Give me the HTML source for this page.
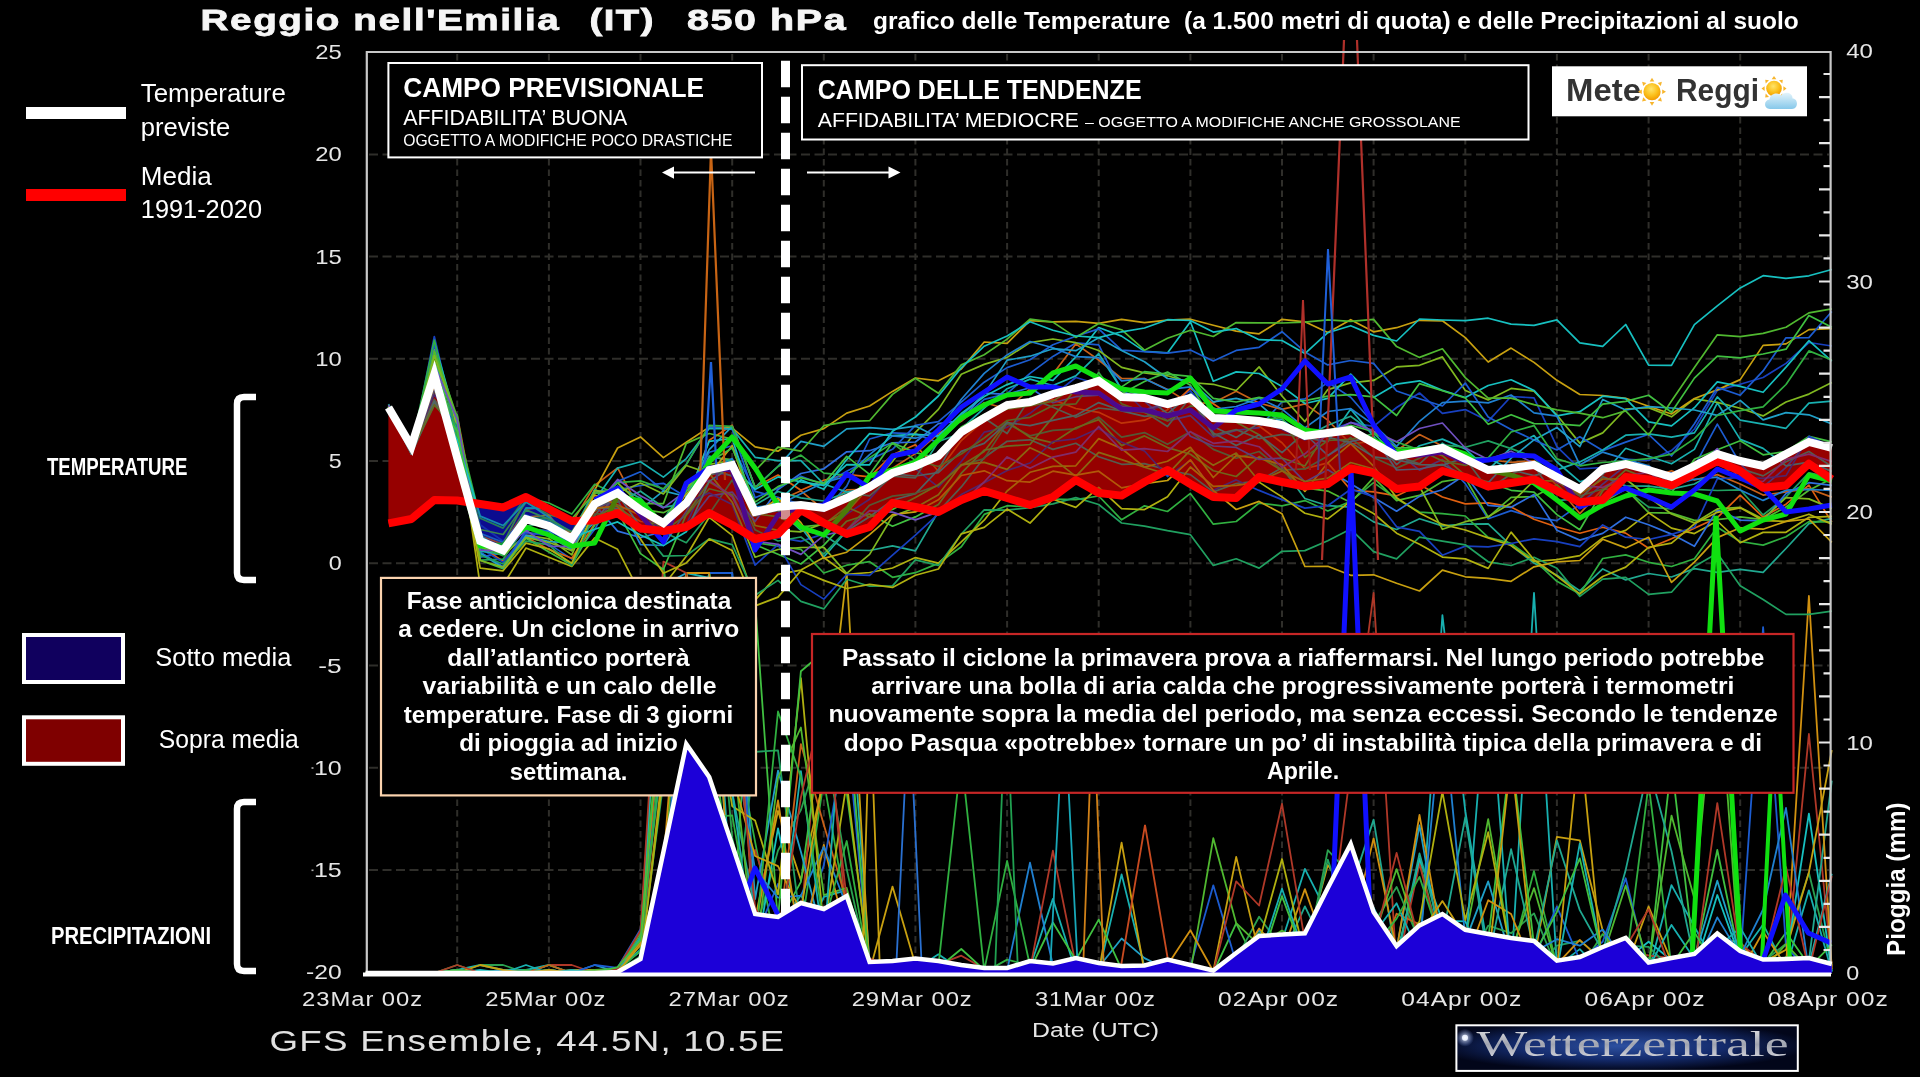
<!DOCTYPE html>
<html><head><meta charset="utf-8"><title>Reggio nell'Emilia 850 hPa</title>
<style>
html,body{margin:0;padding:0;background:#000;width:1920px;height:1080px;overflow:hidden}
svg{display:block;font-family:"Liberation Sans",sans-serif;will-change:transform}
text{white-space:pre}
</style></head><body>
<svg width="1920" height="1080" viewBox="0 0 1920 1080">
<defs>
<radialGradient id="sung" cx="0.45" cy="0.35" r="0.65"><stop offset="0" stop-color="#ffe46a"/><stop offset="0.6" stop-color="#fbbf1a"/><stop offset="1" stop-color="#f29a00"/></radialGradient>
<linearGradient id="cloudg" x1="0" y1="0" x2="0" y2="1"><stop offset="0" stop-color="#e4f4fb"/><stop offset="1" stop-color="#86c8ea"/></linearGradient>
<radialGradient id="wzg" cx="0.48" cy="0.45" r="0.55"><stop offset="0" stop-color="#2d50a0"/><stop offset="0.55" stop-color="#142b6c"/><stop offset="1" stop-color="#02061a"/></radialGradient>
<radialGradient id="flare"><stop offset="0" stop-color="#ffffff" stop-opacity="0.9"/><stop offset="1" stop-color="#88aaff" stop-opacity="0"/></radialGradient>
<linearGradient id="silver" x1="0" y1="0" x2="0" y2="1"><stop offset="0" stop-color="#f0f0f0"/><stop offset="0.5" stop-color="#a0a4b0"/><stop offset="1" stop-color="#e8e8ee"/></linearGradient>
</defs>
<rect width="1920" height="1080" fill="#000"/>
<path d="M457.2,54V972 M548.9,54V972 M640.5,54V972 M732.2,54V972 M823.8,54V972 M915.4,54V972 M1007.1,54V972 M1098.7,54V972 M1190.4,54V972 M1282.0,54V972 M1373.6,54V972 M1465.3,54V972 M1556.9,54V972 M1648.6,54V972 M1740.2,54V972" stroke="#2f2e2a" stroke-width="2" stroke-dasharray="6.5 4" fill="none"/>
<path d="M369,154.4H1829 M369,256.6H1829 M369,358.8H1829 M369,461.1H1829 M369,563.3H1829 M369,665.5H1829 M369,767.8H1829 M369,870.0H1829" stroke="#2f2e2a" stroke-width="2" stroke-dasharray="9 4.5" fill="none"/>
<g fill="#960000"><polygon points="388.5,407.5 411.4,446.2 434.3,374.4 457.2,458.0 469.5,502.4 469.5,502.4 457.2,500.5 434.3,500.0 411.4,519.0 388.5,523.4"/><polygon points="583.7,520.7 594.7,504.0 617.6,493.0 640.5,510.0 663.4,523.0 686.3,503.0 709.2,470.0 732.2,465.0 755.1,512.0 778.0,506.7 800.9,505.0 823.8,508.0 846.7,498.0 869.6,487.0 892.5,473.0 915.4,466.0 938.4,456.0 961.3,432.0 984.2,418.0 1007.1,405.0 1030.0,402.0 1052.9,394.0 1075.8,388.0 1098.7,381.0 1121.6,397.0 1144.5,398.0 1167.5,404.0 1190.4,398.0 1213.3,418.0 1236.2,419.0 1259.1,421.0 1282.0,425.0 1304.9,436.0 1327.8,433.0 1350.7,430.0 1373.6,443.0 1396.6,456.0 1419.5,452.0 1442.4,448.0 1465.3,459.0 1488.2,470.0 1511.1,468.0 1534.0,465.0 1556.9,477.0 1579.8,489.0 1602.7,469.0 1625.7,464.0 1648.6,470.0 1671.5,477.0 1694.4,466.0 1717.3,454.0 1740.2,461.0 1763.1,466.0 1786.0,454.0 1808.9,442.0 1831.8,448.0 1831.8,479.4 1808.9,463.7 1786.0,485.4 1763.1,487.8 1740.2,471.0 1717.3,461.3 1694.4,473.0 1671.5,485.4 1648.6,479.4 1625.7,477.0 1602.7,500.0 1579.8,502.3 1556.9,491.0 1534.0,479.4 1511.1,483.0 1488.2,486.5 1465.3,477.0 1442.4,471.0 1419.5,486.5 1396.6,489.0 1373.6,473.0 1350.7,468.4 1327.8,484.0 1304.9,486.5 1282.0,482.0 1259.1,477.0 1236.2,498.0 1213.3,497.0 1190.4,484.0 1167.5,470.0 1144.5,482.0 1121.6,495.6 1098.7,493.0 1075.8,480.0 1052.9,497.0 1030.0,505.0 1007.1,498.0 984.2,491.0 961.3,500.0 938.4,512.0 915.4,507.0 892.5,503.0 869.6,527.0 846.7,534.0 823.8,523.0 800.9,510.0 778.0,534.0 755.1,539.0 732.2,525.0 709.2,513.0 686.3,527.0 663.4,531.0 640.5,528.5 617.6,513.3 594.7,520.5 583.7,520.7"/></g>
<g fill="#0c0c90"><polygon points="469.5,502.4 480.2,541.0 503.1,550.4 526.0,519.2 548.9,526.0 571.8,538.8 583.7,520.7 583.7,520.7 571.8,521.0 548.9,509.0 526.0,497.0 503.1,507.5 480.2,504.0 469.5,502.4"/></g>
<g stroke-linejoin="round"><path d="M365.6,973.0 L388.5,973.0 L411.4,973.0 L434.3,973.0 L457.2,970.0 L480.2,965.0 L503.1,970.0 L526.0,970.0 L548.9,965.0 L571.8,973.0 L594.7,973.0 L617.6,968.2 L640.5,951.6 L663.4,692.0 L686.3,573.0 L709.2,577.9 L732.2,904.5 L755.1,943.8 L778.0,920.8 L800.9,947.6 L823.8,896.8 L846.7,890.2 L869.6,969.8 L892.5,970.9 L915.4,969.2 L938.4,954.3 L961.3,970.1 L984.2,968.8 L1007.1,971.9 L1030.0,967.5 L1052.9,898.9 L1075.8,971.5 L1098.7,972.4 L1121.6,874.4 L1144.5,966.7 L1167.5,968.4 L1190.4,970.0 L1213.3,972.6 L1236.2,966.9 L1259.1,959.9 L1282.0,941.0 L1304.9,868.9 L1327.8,914.1 L1350.7,893.8 L1373.6,907.7 L1396.6,954.3 L1419.5,956.6 L1442.4,615.2 L1465.3,811.2 L1488.2,952.2 L1511.1,972.4 L1534.0,593.0 L1556.9,966.6 L1579.8,949.1 L1602.7,972.8 L1625.7,946.8 L1648.6,972.3 L1671.5,885.1 L1694.4,926.5 L1717.3,968.5 L1740.2,956.5 L1763.1,924.4 L1786.0,969.1 L1808.9,890.3 L1831.8,971.7" stroke="#18b0b0" stroke-width="1.8" fill="none"/><path d="M365.6,973.0 L388.5,973.0 L411.4,973.0 L434.3,973.0 L457.2,965.0 L480.2,973.0 L503.1,973.0 L526.0,970.0 L548.9,973.0 L571.8,973.0 L594.7,973.0 L617.6,972.4 L640.5,971.3 L663.4,566.4 L686.3,725.0 L709.2,573.0 L732.2,721.3 L755.1,841.9 L778.0,957.4 L800.9,930.5 L823.8,780.8 L846.7,912.1 L869.6,971.3 L892.5,966.8 L915.4,968.3 L938.4,962.4 L961.3,968.0 L984.2,972.4 L1007.1,959.6 L1030.0,965.4 L1052.9,972.8 L1075.8,966.5 L1098.7,970.1 L1121.6,972.5 L1144.5,968.0 L1167.5,964.0 L1190.4,967.3 L1213.3,972.2 L1236.2,956.8 L1259.1,959.1 L1282.0,943.1 L1304.9,950.7 L1327.8,895.5 L1350.7,963.7 L1373.6,918.5 L1396.6,955.3 L1419.5,861.4 L1442.4,949.6 L1465.3,969.7 L1488.2,972.0 L1511.1,957.8 L1534.0,871.1 L1556.9,966.1 L1579.8,969.3 L1602.7,934.1 L1625.7,966.6 L1648.6,783.9 L1671.5,967.0 L1694.4,967.4 L1717.3,965.9 L1740.2,957.0 L1763.1,962.3 L1786.0,965.7 L1808.9,971.2 L1831.8,966.2" stroke="#30b040" stroke-width="1.8" fill="none"/><path d="M365.6,973.0 L388.5,973.0 L411.4,973.0 L434.3,973.0 L457.2,973.0 L480.2,973.0 L503.1,973.0 L526.0,973.0 L548.9,973.0 L571.8,970.0 L594.7,970.0 L617.6,971.3 L640.5,963.4 L663.4,764.0 L686.3,844.1 L709.2,863.3 L732.2,643.0 L755.1,918.9 L778.0,811.0 L800.9,880.1 L823.8,779.4 L846.7,714.5 L869.6,971.6 L892.5,886.6 L915.4,964.8 L938.4,964.3 L961.3,968.1 L984.2,970.9 L1007.1,973.0 L1030.0,965.3 L1052.9,970.7 L1075.8,963.6 L1098.7,967.5 L1121.6,970.5 L1144.5,966.9 L1167.5,961.7 L1190.4,972.1 L1213.3,971.6 L1236.2,966.2 L1259.1,943.7 L1282.0,940.3 L1304.9,949.7 L1327.8,865.0 L1350.7,898.5 L1373.6,961.3 L1396.6,949.2 L1419.5,950.0 L1442.4,956.0 L1465.3,939.7 L1488.2,954.5 L1511.1,955.7 L1534.0,959.0 L1556.9,836.8 L1579.8,840.3 L1602.7,930.4 L1625.7,968.6 L1648.6,906.5 L1671.5,961.7 L1694.4,956.8 L1717.3,939.2 L1740.2,942.2 L1763.1,969.5 L1786.0,965.0 L1808.9,961.6 L1831.8,970.5" stroke="#c8a010" stroke-width="1.8" fill="none"/><path d="M365.6,973.0 L388.5,973.0 L411.4,973.0 L434.3,973.0 L457.2,973.0 L480.2,973.0 L503.1,973.0 L526.0,973.0 L548.9,965.0 L571.8,965.0 L594.7,973.0 L617.6,969.6 L640.5,964.0 L663.4,720.1 L686.3,670.0 L709.2,780.7 L732.2,926.9 L755.1,849.9 L778.0,922.0 L800.9,918.0 L823.8,677.8 L846.7,922.7 L869.6,968.7 L892.5,963.3 L915.4,968.9 L938.4,966.3 L961.3,972.1 L984.2,972.9 L1007.1,972.0 L1030.0,969.5 L1052.9,967.7 L1075.8,963.1 L1098.7,968.4 L1121.6,971.8 L1144.5,970.1 L1167.5,968.0 L1190.4,971.8 L1213.3,971.6 L1236.2,963.5 L1259.1,952.6 L1282.0,964.9 L1304.9,944.0 L1327.8,948.8 L1350.7,768.9 L1373.6,593.0 L1396.6,969.7 L1419.5,863.7 L1442.4,953.3 L1465.3,956.6 L1488.2,968.6 L1511.1,951.4 L1534.0,944.2 L1556.9,962.8 L1579.8,971.3 L1602.7,955.3 L1625.7,951.4 L1648.6,955.5 L1671.5,958.1 L1694.4,964.2 L1717.3,967.8 L1740.2,943.9 L1763.1,961.0 L1786.0,971.8 L1808.9,734.0 L1831.8,966.8" stroke="#b03828" stroke-width="1.8" fill="none"/><path d="M365.6,973.0 L388.5,973.0 L411.4,973.0 L434.3,973.0 L457.2,973.0 L480.2,973.0 L503.1,970.0 L526.0,973.0 L548.9,965.0 L571.8,973.0 L594.7,973.0 L617.6,971.7 L640.5,956.2 L663.4,684.8 L686.3,612.9 L709.2,752.3 L732.2,929.7 L755.1,601.8 L778.0,923.9 L800.9,881.9 L823.8,715.2 L846.7,792.3 L869.6,965.5 L892.5,971.7 L915.4,970.9 L938.4,971.6 L961.3,969.1 L984.2,971.1 L1007.1,972.1 L1030.0,964.4 L1052.9,972.1 L1075.8,959.6 L1098.7,972.6 L1121.6,966.9 L1144.5,971.5 L1167.5,970.8 L1190.4,969.3 L1213.3,972.5 L1236.2,923.3 L1259.1,969.2 L1282.0,940.7 L1304.9,955.0 L1327.8,923.4 L1350.7,938.6 L1373.6,929.7 L1396.6,962.9 L1419.5,936.7 L1442.4,916.9 L1465.3,951.6 L1488.2,939.5 L1511.1,751.7 L1534.0,945.1 L1556.9,967.0 L1579.8,966.8 L1602.7,966.3 L1625.7,963.2 L1648.6,968.4 L1671.5,762.1 L1694.4,960.2 L1717.3,850.0 L1740.2,960.5 L1763.1,964.7 L1786.0,932.6 L1808.9,965.1 L1831.8,970.4" stroke="#40c040" stroke-width="1.8" fill="none"/><path d="M365.6,973.0 L388.5,973.0 L411.4,973.0 L434.3,973.0 L457.2,973.0 L480.2,973.0 L503.1,970.0 L526.0,973.0 L548.9,973.0 L571.8,973.0 L594.7,965.0 L617.6,972.4 L640.5,936.5 L663.4,585.6 L686.3,573.0 L709.2,573.0 L732.2,573.0 L755.1,899.0 L778.0,770.6 L800.9,851.7 L823.8,940.5 L846.7,938.9 L869.6,971.6 L892.5,971.6 L915.4,966.4 L938.4,967.5 L961.3,971.0 L984.2,969.7 L1007.1,972.1 L1030.0,970.4 L1052.9,968.7 L1075.8,970.4 L1098.7,967.3 L1121.6,938.5 L1144.5,958.1 L1167.5,969.6 L1190.4,966.4 L1213.3,972.5 L1236.2,964.3 L1259.1,930.0 L1282.0,968.4 L1304.9,944.3 L1327.8,910.1 L1350.7,883.7 L1373.6,932.0 L1396.6,948.8 L1419.5,825.3 L1442.4,957.6 L1465.3,940.9 L1488.2,881.4 L1511.1,958.4 L1534.0,957.3 L1556.9,966.7 L1579.8,966.3 L1602.7,972.8 L1625.7,944.3 L1648.6,966.4 L1671.5,962.7 L1694.4,957.9 L1717.3,880.7 L1740.2,955.1 L1763.1,967.6 L1786.0,961.6 L1808.9,969.2 L1831.8,965.0" stroke="#20a0c8" stroke-width="1.8" fill="none"/><path d="M365.6,973.0 L388.5,973.0 L411.4,973.0 L434.3,973.0 L457.2,970.0 L480.2,973.0 L503.1,973.0 L526.0,973.0 L548.9,965.0 L571.8,973.0 L594.7,973.0 L617.6,970.8 L640.5,956.5 L663.4,782.2 L686.3,694.9 L709.2,673.9 L732.2,937.7 L755.1,751.8 L778.0,750.4 L800.9,925.5 L823.8,960.9 L846.7,936.6 L869.6,967.6 L892.5,972.1 L915.4,963.4 L938.4,972.1 L961.3,972.0 L984.2,970.1 L1007.1,972.0 L1030.0,967.4 L1052.9,969.6 L1075.8,959.9 L1098.7,968.6 L1121.6,968.5 L1144.5,966.8 L1167.5,963.0 L1190.4,966.9 L1213.3,971.1 L1236.2,955.8 L1259.1,955.6 L1282.0,945.2 L1304.9,958.0 L1327.8,859.6 L1350.7,929.4 L1373.6,943.9 L1396.6,965.9 L1419.5,970.5 L1442.4,951.9 L1465.3,942.8 L1488.2,956.2 L1511.1,954.6 L1534.0,972.0 L1556.9,945.7 L1579.8,940.9 L1602.7,959.1 L1625.7,945.7 L1648.6,946.8 L1671.5,968.8 L1694.4,959.0 L1717.3,963.7 L1740.2,954.9 L1763.1,966.3 L1786.0,966.9 L1808.9,957.2 L1831.8,966.5" stroke="#20a060" stroke-width="1.8" fill="none"/><path d="M365.6,973.0 L388.5,973.0 L411.4,973.0 L434.3,973.0 L457.2,973.0 L480.2,965.0 L503.1,965.0 L526.0,973.0 L548.9,973.0 L571.8,973.0 L594.7,973.0 L617.6,967.8 L640.5,932.3 L663.4,751.0 L686.3,740.3 L709.2,573.0 L732.2,837.9 L755.1,933.0 L778.0,850.5 L800.9,810.0 L823.8,736.8 L846.7,869.3 L869.6,971.7 L892.5,966.4 L915.4,961.4 L938.4,972.1 L961.3,969.1 L984.2,972.9 L1007.1,972.1 L1030.0,964.6 L1052.9,972.7 L1075.8,966.3 L1098.7,964.3 L1121.6,970.4 L1144.5,966.3 L1167.5,972.2 L1190.4,972.0 L1213.3,971.5 L1236.2,958.9 L1259.1,916.8 L1282.0,948.3 L1304.9,962.5 L1327.8,850.2 L1350.7,875.0 L1373.6,923.5 L1396.6,886.9 L1419.5,940.9 L1442.4,932.9 L1465.3,969.6 L1488.2,925.6 L1511.1,933.2 L1534.0,913.4 L1556.9,968.0 L1579.8,971.5 L1602.7,969.9 L1625.7,967.4 L1648.6,958.2 L1671.5,963.5 L1694.4,958.5 L1717.3,957.5 L1740.2,966.2 L1763.1,961.7 L1786.0,943.8 L1808.9,872.8 L1831.8,965.5" stroke="#2aa050" stroke-width="1.8" fill="none"/><path d="M365.6,973.0 L388.5,973.0 L411.4,973.0 L434.3,973.0 L457.2,973.0 L480.2,973.0 L503.1,973.0 L526.0,973.0 L548.9,965.0 L571.8,973.0 L594.7,973.0 L617.6,971.0 L640.5,957.6 L663.4,678.7 L686.3,581.9 L709.2,674.1 L732.2,594.3 L755.1,948.0 L778.0,943.0 L800.9,744.1 L823.8,824.7 L846.7,901.2 L869.6,963.6 L892.5,970.9 L915.4,969.8 L938.4,965.5 L961.3,966.3 L984.2,970.9 L1007.1,968.6 L1030.0,963.2 L1052.9,968.2 L1075.8,969.4 L1098.7,964.1 L1121.6,969.2 L1144.5,967.4 L1167.5,962.1 L1190.4,968.9 L1213.3,972.6 L1236.2,971.6 L1259.1,946.1 L1282.0,940.4 L1304.9,962.0 L1327.8,916.6 L1350.7,893.8 L1373.6,972.1 L1396.6,913.7 L1419.5,924.4 L1442.4,963.8 L1465.3,962.7 L1488.2,961.3 L1511.1,971.8 L1534.0,968.8 L1556.9,966.3 L1579.8,967.1 L1602.7,956.9 L1625.7,949.3 L1648.6,963.6 L1671.5,961.5 L1694.4,965.6 L1717.3,940.7 L1740.2,962.6 L1763.1,962.0 L1786.0,972.3 L1808.9,960.8 L1831.8,968.2" stroke="#c86018" stroke-width="1.8" fill="none"/><path d="M365.6,973.0 L388.5,973.0 L411.4,973.0 L434.3,973.0 L457.2,973.0 L480.2,973.0 L503.1,973.0 L526.0,973.0 L548.9,970.0 L571.8,973.0 L594.7,965.0 L617.6,967.8 L640.5,929.2 L663.4,741.7 L686.3,573.0 L709.2,573.0 L732.2,573.0 L755.1,938.2 L778.0,883.9 L800.9,929.9 L823.8,865.3 L846.7,727.1 L869.6,971.7 L892.5,966.8 L915.4,969.1 L938.4,972.7 L961.3,969.8 L984.2,970.6 L1007.1,969.9 L1030.0,969.7 L1052.9,970.3 L1075.8,971.1 L1098.7,966.0 L1121.6,971.7 L1144.5,968.3 L1167.5,969.2 L1190.4,966.5 L1213.3,885.3 L1236.2,962.9 L1259.1,965.1 L1282.0,939.2 L1304.9,962.1 L1327.8,899.5 L1350.7,920.1 L1373.6,954.6 L1396.6,954.1 L1419.5,965.7 L1442.4,966.6 L1465.3,962.5 L1488.2,955.4 L1511.1,937.1 L1534.0,957.9 L1556.9,906.6 L1579.8,960.1 L1602.7,941.8 L1625.7,878.3 L1648.6,972.3 L1671.5,972.0 L1694.4,972.9 L1717.3,953.9 L1740.2,961.7 L1763.1,627.1 L1786.0,946.2 L1808.9,972.6 L1831.8,971.8" stroke="#1c5cd0" stroke-width="1.8" fill="none"/><path d="M365.6,973.0 L388.5,973.0 L411.4,973.0 L434.3,973.0 L457.2,973.0 L480.2,970.0 L503.1,973.0 L526.0,973.0 L548.9,970.0 L571.8,973.0 L594.7,973.0 L617.6,972.6 L640.5,938.0 L663.4,585.5 L686.3,711.5 L709.2,573.0 L732.2,939.1 L755.1,959.9 L778.0,828.3 L800.9,937.1 L823.8,934.7 L846.7,907.3 L869.6,967.6 L892.5,966.5 L915.4,970.4 L938.4,972.4 L961.3,966.7 L984.2,970.3 L1007.1,969.4 L1030.0,965.2 L1052.9,972.7 L1075.8,970.6 L1098.7,967.8 L1121.6,969.1 L1144.5,970.1 L1167.5,963.0 L1190.4,967.4 L1213.3,971.9 L1236.2,963.8 L1259.1,939.6 L1282.0,950.2 L1304.9,956.8 L1327.8,913.8 L1350.7,891.3 L1373.6,965.9 L1396.6,958.4 L1419.5,858.6 L1442.4,920.7 L1465.3,921.4 L1488.2,969.8 L1511.1,958.1 L1534.0,945.0 L1556.9,965.0 L1579.8,964.2 L1602.7,951.5 L1625.7,959.8 L1648.6,941.7 L1671.5,960.2 L1694.4,969.3 L1717.3,895.0 L1740.2,958.4 L1763.1,961.9 L1786.0,961.4 L1808.9,813.6 L1831.8,971.3" stroke="#17c0c0" stroke-width="1.8" fill="none"/><path d="M365.6,973.0 L388.5,973.0 L411.4,973.0 L434.3,973.0 L457.2,973.0 L480.2,973.0 L503.1,973.0 L526.0,973.0 L548.9,973.0 L571.8,973.0 L594.7,973.0 L617.6,968.2 L640.5,936.8 L663.4,740.1 L686.3,866.0 L709.2,632.8 L732.2,792.2 L755.1,910.3 L778.0,926.7 L800.9,895.2 L823.8,938.4 L846.7,930.0 L869.6,966.6 L892.5,971.9 L915.4,963.5 L938.4,971.5 L961.3,967.0 L984.2,968.5 L1007.1,971.0 L1030.0,968.9 L1052.9,965.5 L1075.8,968.9 L1098.7,968.6 L1121.6,969.8 L1144.5,971.6 L1167.5,967.2 L1190.4,969.3 L1213.3,972.3 L1236.2,966.2 L1259.1,945.2 L1282.0,957.4 L1304.9,906.4 L1327.8,952.9 L1350.7,890.1 L1373.6,819.6 L1396.6,961.3 L1419.5,853.5 L1442.4,937.9 L1465.3,817.2 L1488.2,960.6 L1511.1,849.2 L1534.0,950.4 L1556.9,840.5 L1579.8,910.1 L1602.7,951.2 L1625.7,869.9 L1648.6,766.2 L1671.5,851.3 L1694.4,960.8 L1717.3,946.5 L1740.2,957.1 L1763.1,969.9 L1786.0,969.1 L1808.9,960.8 L1831.8,780.7" stroke="#20a890" stroke-width="1.8" fill="none"/><path d="M365.6,973.0 L388.5,973.0 L411.4,973.0 L434.3,973.0 L457.2,973.0 L480.2,973.0 L503.1,973.0 L526.0,973.0 L548.9,970.0 L571.8,973.0 L594.7,970.0 L617.6,968.7 L640.5,933.1 L663.4,887.0 L686.3,573.0 L709.2,748.4 L732.2,743.9 L755.1,957.6 L778.0,777.9 L800.9,727.5 L823.8,895.2 L846.7,887.9 L869.6,972.3 L892.5,968.1 L915.4,968.0 L938.4,965.6 L961.3,969.4 L984.2,972.9 L1007.1,971.8 L1030.0,970.6 L1052.9,965.1 L1075.8,973.0 L1098.7,965.4 L1121.6,972.5 L1144.5,967.0 L1167.5,963.3 L1190.4,972.3 L1213.3,838.2 L1236.2,923.2 L1259.1,945.0 L1282.0,930.6 L1304.9,944.2 L1327.8,920.8 L1350.7,878.3 L1373.6,937.5 L1396.6,869.1 L1419.5,941.4 L1442.4,920.5 L1465.3,938.6 L1488.2,819.2 L1511.1,951.6 L1534.0,888.1 L1556.9,967.6 L1579.8,967.3 L1602.7,956.8 L1625.7,885.5 L1648.6,966.5 L1671.5,815.6 L1694.4,898.8 L1717.3,653.6 L1740.2,970.5 L1763.1,969.7 L1786.0,944.2 L1808.9,969.1 L1831.8,965.1" stroke="#50b830" stroke-width="1.8" fill="none"/><path d="M365.6,973.0 L388.5,973.0 L411.4,973.0 L434.3,973.0 L457.2,970.0 L480.2,973.0 L503.1,973.0 L526.0,973.0 L548.9,973.0 L571.8,973.0 L594.7,973.0 L617.6,970.7 L640.5,942.4 L663.4,863.0 L686.3,573.0 L709.2,573.0 L732.2,935.3 L755.1,929.4 L778.0,800.5 L800.9,951.8 L823.8,845.0 L846.7,936.3 L869.6,971.6 L892.5,965.7 L915.4,969.3 L938.4,968.2 L961.3,969.0 L984.2,969.0 L1007.1,972.3 L1030.0,970.1 L1052.9,970.7 L1075.8,968.7 L1098.7,971.2 L1121.6,969.5 L1144.5,973.0 L1167.5,964.9 L1190.4,930.3 L1213.3,971.2 L1236.2,965.6 L1259.1,928.5 L1282.0,953.7 L1304.9,889.1 L1327.8,953.7 L1350.7,935.2 L1373.6,838.3 L1396.6,950.1 L1419.5,815.0 L1442.4,944.4 L1465.3,962.5 L1488.2,900.2 L1511.1,914.0 L1534.0,971.2 L1556.9,964.4 L1579.8,939.9 L1602.7,961.4 L1625.7,956.3 L1648.6,965.4 L1671.5,960.4 L1694.4,958.6 L1717.3,941.0 L1740.2,972.8 L1763.1,931.7 L1786.0,966.6 L1808.9,596.0 L1831.8,969.4" stroke="#d09010" stroke-width="1.8" fill="none"/><path d="M365.6,973.0 L388.5,973.0 L411.4,973.0 L434.3,973.0 L457.2,973.0 L480.2,973.0 L503.1,973.0 L526.0,973.0 L548.9,973.0 L571.8,973.0 L594.7,973.0 L617.6,971.7 L640.5,964.9 L663.4,896.1 L686.3,629.2 L709.2,669.6 L732.2,732.5 L755.1,869.6 L778.0,897.7 L800.9,895.6 L823.8,847.0 L846.7,906.3 L869.6,969.8 L892.5,962.9 L915.4,962.8 L938.4,964.2 L961.3,970.2 L984.2,969.0 L1007.1,970.6 L1030.0,862.7 L1052.9,965.2 L1075.8,964.7 L1098.7,969.0 L1121.6,970.3 L1144.5,966.8 L1167.5,964.0 L1190.4,969.9 L1213.3,971.1 L1236.2,966.2 L1259.1,971.6 L1282.0,954.7 L1304.9,962.8 L1327.8,956.8 L1350.7,903.3 L1373.6,938.8 L1396.6,968.4 L1419.5,949.4 L1442.4,702.5 L1465.3,938.1 L1488.2,945.5 L1511.1,948.1 L1534.0,951.9 L1556.9,939.2 L1579.8,945.7 L1602.7,929.6 L1625.7,962.0 L1648.6,959.9 L1671.5,966.4 L1694.4,968.9 L1717.3,917.4 L1740.2,955.6 L1763.1,909.5 L1786.0,808.0 L1808.9,972.1 L1831.8,966.4" stroke="#2080d0" stroke-width="1.8" fill="none"/><path d="M365.6,973.0 L388.5,973.0 L411.4,973.0 L434.3,973.0 L457.2,973.0 L480.2,973.0 L503.1,973.0 L526.0,973.0 L548.9,973.0 L571.8,973.0 L594.7,973.0 L617.6,972.3 L640.5,964.8 L663.4,773.1 L686.3,573.0 L709.2,665.9 L732.2,806.2 L755.1,820.5 L778.0,894.4 L800.9,678.2 L823.8,929.8 L846.7,782.7 L869.6,971.2 L892.5,965.5 L915.4,971.3 L938.4,962.8 L961.3,970.4 L984.2,968.5 L1007.1,969.7 L1030.0,969.6 L1052.9,971.7 L1075.8,967.3 L1098.7,969.3 L1121.6,969.8 L1144.5,970.7 L1167.5,970.1 L1190.4,970.9 L1213.3,972.4 L1236.2,960.8 L1259.1,941.9 L1282.0,859.0 L1304.9,957.0 L1327.8,920.3 L1350.7,917.4 L1373.6,956.9 L1396.6,956.7 L1419.5,921.2 L1442.4,791.7 L1465.3,920.1 L1488.2,832.2 L1511.1,954.4 L1534.0,970.1 L1556.9,972.0 L1579.8,967.6 L1602.7,957.3 L1625.7,944.7 L1648.6,972.8 L1671.5,966.7 L1694.4,965.1 L1717.3,949.1 L1740.2,953.8 L1763.1,960.9 L1786.0,962.6 L1808.9,963.5 L1831.8,972.5" stroke="#b0b010" stroke-width="1.8" fill="none"/><path d="M365.6,973.0 L388.5,973.0 L411.4,973.0 L434.3,973.0 L457.2,970.0 L480.2,973.0 L503.1,973.0 L526.0,965.0 L548.9,973.0 L571.8,970.0 L594.7,973.0 L617.6,968.0 L640.5,949.8 L663.4,878.5 L686.3,740.2 L709.2,787.9 L732.2,792.3 L755.1,959.6 L778.0,959.6 L800.9,771.1 L823.8,946.5 L846.7,646.5 L869.6,963.4 L892.5,972.0 L915.4,965.6 L938.4,970.4 L961.3,969.3 L984.2,971.4 L1007.1,970.3 L1030.0,962.3 L1052.9,971.5 L1075.8,971.1 L1098.7,965.7 L1121.6,972.1 L1144.5,971.8 L1167.5,961.3 L1190.4,972.1 L1213.3,972.5 L1236.2,971.0 L1259.1,960.5 L1282.0,888.7 L1304.9,955.4 L1327.8,931.4 L1350.7,883.0 L1373.6,934.3 L1396.6,903.3 L1419.5,955.0 L1442.4,962.2 L1465.3,951.2 L1488.2,661.5 L1511.1,969.9 L1534.0,965.3 L1556.9,970.5 L1579.8,843.3 L1602.7,957.8 L1625.7,969.3 L1648.6,968.0 L1671.5,924.9 L1694.4,959.0 L1717.3,947.6 L1740.2,927.6 L1763.1,966.7 L1786.0,963.8 L1808.9,965.0 L1831.8,873.7" stroke="#18b0b0" stroke-width="1.8" fill="none"/><path d="M365.6,973.0 L388.5,973.0 L411.4,973.0 L434.3,973.0 L457.2,973.0 L480.2,973.0 L503.1,973.0 L526.0,973.0 L548.9,973.0 L571.8,973.0 L594.7,973.0 L617.6,971.1 L640.5,950.6 L663.4,727.2 L686.3,649.9 L709.2,817.4 L732.2,815.3 L755.1,943.9 L778.0,711.5 L800.9,776.9 L823.8,925.0 L846.7,841.0 L869.6,972.4 L892.5,972.5 L915.4,965.8 L938.4,966.1 L961.3,756.8 L984.2,970.4 L1007.1,860.9 L1030.0,965.7 L1052.9,965.2 L1075.8,962.5 L1098.7,966.2 L1121.6,970.2 L1144.5,972.2 L1167.5,964.1 L1190.4,972.2 L1213.3,971.5 L1236.2,971.0 L1259.1,933.2 L1282.0,953.6 L1304.9,965.5 L1327.8,932.0 L1350.7,958.7 L1373.6,947.1 L1396.6,918.6 L1419.5,876.9 L1442.4,946.8 L1465.3,957.9 L1488.2,969.3 L1511.1,967.8 L1534.0,967.2 L1556.9,971.2 L1579.8,964.5 L1602.7,963.9 L1625.7,946.5 L1648.6,967.5 L1671.5,959.8 L1694.4,961.1 L1717.3,938.3 L1740.2,961.6 L1763.1,956.0 L1786.0,968.2 L1808.9,967.2 L1831.8,968.5" stroke="#30b040" stroke-width="1.8" fill="none"/><path d="M365.6,973.0 L388.5,973.0 L411.4,973.0 L434.3,973.0 L457.2,973.0 L480.2,965.0 L503.1,970.0 L526.0,973.0 L548.9,970.0 L571.8,973.0 L594.7,973.0 L617.6,971.9 L640.5,945.1 L663.4,668.4 L686.3,819.4 L709.2,777.3 L732.2,774.8 L755.1,856.0 L778.0,866.1 L800.9,910.9 L823.8,773.4 L846.7,573.0 L869.6,971.4 L892.5,971.2 L915.4,968.2 L938.4,971.8 L961.3,967.2 L984.2,969.3 L1007.1,972.5 L1030.0,971.1 L1052.9,967.3 L1075.8,965.4 L1098.7,972.3 L1121.6,842.6 L1144.5,972.0 L1167.5,963.0 L1190.4,972.1 L1213.3,971.2 L1236.2,856.9 L1259.1,953.4 L1282.0,962.4 L1304.9,945.1 L1327.8,931.5 L1350.7,893.3 L1373.6,942.7 L1396.6,966.4 L1419.5,935.1 L1442.4,901.1 L1465.3,937.0 L1488.2,962.4 L1511.1,757.7 L1534.0,967.4 L1556.9,969.1 L1579.8,737.5 L1602.7,969.7 L1625.7,968.5 L1648.6,963.8 L1671.5,960.6 L1694.4,965.5 L1717.3,969.9 L1740.2,960.9 L1763.1,962.3 L1786.0,949.7 L1808.9,872.3 L1831.8,750.1" stroke="#c8a010" stroke-width="1.8" fill="none"/><path d="M365.6,973.0 L388.5,973.0 L411.4,973.0 L434.3,973.0 L457.2,965.0 L480.2,973.0 L503.1,973.0 L526.0,973.0 L548.9,973.0 L571.8,973.0 L594.7,973.0 L617.6,968.8 L640.5,930.8 L663.4,561.6 L686.3,573.0 L709.2,853.3 L732.2,686.6 L755.1,907.6 L778.0,946.1 L800.9,797.4 L823.8,699.2 L846.7,899.4 L869.6,958.6 L892.5,965.6 L915.4,965.4 L938.4,964.3 L961.3,955.7 L984.2,968.6 L1007.1,971.2 L1030.0,969.3 L1052.9,850.7 L1075.8,965.1 L1098.7,970.0 L1121.6,970.1 L1144.5,967.0 L1167.5,971.2 L1190.4,969.6 L1213.3,972.3 L1236.2,881.3 L1259.1,905.5 L1282.0,803.8 L1304.9,941.2 L1327.8,931.0 L1350.7,894.7 L1373.6,943.3 L1396.6,852.9 L1419.5,942.6 L1442.4,920.4 L1465.3,927.9 L1488.2,938.2 L1511.1,950.1 L1534.0,950.5 L1556.9,964.2 L1579.8,968.9 L1602.7,955.6 L1625.7,947.2 L1648.6,909.2 L1671.5,972.1 L1694.4,970.5 L1717.3,803.1 L1740.2,954.6 L1763.1,961.7 L1786.0,867.0 L1808.9,970.4 L1831.8,876.0" stroke="#b03828" stroke-width="1.8" fill="none"/><path d="M365.6,973.0 L388.5,973.0 L411.4,973.0 L434.3,973.0 L457.2,970.0 L480.2,973.0 L503.1,973.0 L526.0,973.0 L548.9,973.0 L571.8,973.0 L594.7,973.0 L617.6,967.1 L640.5,940.4 L663.4,669.5 L686.3,617.1 L709.2,671.5 L732.2,937.3 L755.1,923.6 L778.0,918.3 L800.9,671.2 L823.8,651.7 L846.7,699.0 L869.6,972.0 L892.5,963.4 L915.4,968.4 L938.4,967.7 L961.3,949.0 L984.2,969.9 L1007.1,970.4 L1030.0,970.0 L1052.9,922.5 L1075.8,960.0 L1098.7,919.6 L1121.6,969.1 L1144.5,972.8 L1167.5,971.0 L1190.4,970.6 L1213.3,971.7 L1236.2,968.5 L1259.1,967.5 L1282.0,896.1 L1304.9,957.6 L1327.8,953.4 L1350.7,915.9 L1373.6,938.9 L1396.6,957.0 L1419.5,948.9 L1442.4,932.4 L1465.3,960.8 L1488.2,958.8 L1511.1,962.3 L1534.0,954.7 L1556.9,912.0 L1579.8,858.4 L1602.7,957.8 L1625.7,952.1 L1648.6,968.3 L1671.5,965.3 L1694.4,932.1 L1717.3,970.8 L1740.2,958.9 L1763.1,972.4 L1786.0,957.1 L1808.9,967.6 L1831.8,944.7" stroke="#40c040" stroke-width="1.8" fill="none"/></g>
<g stroke-linejoin="round"><path d="M388.5,408.5 L411.4,451.5 L434.3,336.5 L457.2,432.6 L480.2,524.8 L503.1,541.2 L526.0,515.5 L548.9,522.9 L571.8,543.6 L594.7,506.1 L617.6,490.5 L640.5,506.6 L663.4,527.9 L686.3,525.0 L709.2,471.7 L732.2,475.7 L755.1,538.4 L778.0,537.3 L800.9,541.4 L823.8,533.9 L846.7,514.1 L869.6,499.3 L892.5,473.2 L915.4,468.8 L938.4,487.1 L961.3,461.5 L984.2,432.2 L1007.1,427.3 L1030.0,413.3 L1052.9,395.7 L1075.8,377.5 L1098.7,384.2 L1121.6,388.5 L1144.5,410.6 L1167.5,405.1 L1190.4,390.9 L1213.3,417.8 L1236.2,417.6 L1259.1,420.9 L1282.0,429.5 L1304.9,440.0 L1327.8,430.9 L1350.7,422.7 L1373.6,426.4 L1396.6,407.5 L1419.5,393.0 L1442.4,413.3 L1465.3,409.6 L1488.2,421.1 L1511.1,396.5 L1534.0,397.8 L1556.9,446.7 L1579.8,468.8 L1602.7,467.5 L1625.7,459.2 L1648.6,460.5 L1671.5,450.6 L1694.4,429.0 L1717.3,390.4 L1740.2,384.3 L1763.1,377.5 L1786.0,363.4 L1808.9,342.5 L1831.8,346.0" stroke="#1840c0" stroke-width="1.7" fill="none"/><path d="M388.5,404.0 L411.4,450.6 L434.3,390.2 L457.2,439.6 L480.2,557.1 L503.1,553.2 L526.0,535.8 L548.9,543.9 L571.8,559.1 L594.7,529.3 L617.6,489.6 L640.5,485.5 L663.4,483.3 L686.3,496.9 L709.2,452.3 L732.2,445.8 L755.1,491.4 L778.0,497.2 L800.9,504.3 L823.8,511.5 L846.7,486.1 L869.6,439.0 L892.5,432.8 L915.4,433.9 L938.4,442.6 L961.3,419.1 L984.2,399.4 L1007.1,393.6 L1030.0,373.4 L1052.9,356.4 L1075.8,342.9 L1098.7,344.9 L1121.6,390.4 L1144.5,401.4 L1167.5,420.8 L1190.4,415.7 L1213.3,437.0 L1236.2,430.4 L1259.1,427.7 L1282.0,401.8 L1304.9,398.9 L1327.8,382.4 L1350.7,397.3 L1373.6,423.5 L1396.6,452.2 L1419.5,470.2 L1442.4,459.5 L1465.3,483.6 L1488.2,518.8 L1511.1,510.6 L1534.0,517.4 L1556.9,520.6 L1579.8,504.5 L1602.7,484.1 L1625.7,465.5 L1648.6,472.6 L1671.5,472.5 L1694.4,466.3 L1717.3,424.1 L1740.2,463.6 L1763.1,487.1 L1786.0,467.4 L1808.9,440.8 L1831.8,446.7" stroke="#1c5cd0" stroke-width="1.7" fill="none"/><path d="M388.5,408.1 L411.4,446.5 L434.3,390.2 L457.2,415.5 L480.2,535.7 L503.1,544.4 L526.0,509.2 L548.9,507.0 L571.8,523.0 L594.7,485.5 L617.6,467.8 L640.5,511.3 L663.4,520.2 L686.3,502.2 L709.2,472.2 L732.2,460.3 L755.1,509.2 L778.0,501.3 L800.9,490.8 L823.8,509.9 L846.7,489.8 L869.6,489.3 L892.5,468.3 L915.4,453.6 L938.4,433.5 L961.3,421.3 L984.2,402.7 L1007.1,408.8 L1030.0,389.0 L1052.9,374.0 L1075.8,343.9 L1098.7,360.0 L1121.6,378.5 L1144.5,378.5 L1167.5,389.4 L1190.4,403.7 L1213.3,402.7 L1236.2,391.2 L1259.1,403.0 L1282.0,409.4 L1304.9,403.9 L1327.8,420.1 L1350.7,444.0 L1373.6,441.1 L1396.6,450.8 L1419.5,434.5 L1442.4,446.1 L1465.3,464.6 L1488.2,459.5 L1511.1,462.3 L1534.0,460.9 L1556.9,485.7 L1579.8,513.6 L1602.7,489.1 L1625.7,477.9 L1648.6,478.7 L1671.5,470.7 L1694.4,479.9 L1717.3,474.6 L1740.2,484.0 L1763.1,495.1 L1786.0,491.9 L1808.9,488.7 L1831.8,497.1" stroke="#c86018" stroke-width="1.7" fill="none"/><path d="M388.5,407.9 L411.4,453.4 L434.3,399.4 L457.2,437.2 L480.2,546.4 L503.1,561.2 L526.0,537.2 L548.9,549.4 L571.8,558.2 L594.7,524.0 L617.6,508.0 L640.5,521.5 L663.4,523.1 L686.3,502.6 L709.2,440.2 L732.2,425.2 L755.1,487.0 L778.0,475.0 L800.9,490.2 L823.8,480.2 L846.7,474.4 L869.6,476.8 L892.5,454.8 L915.4,444.8 L938.4,471.2 L961.3,440.6 L984.2,420.4 L1007.1,403.6 L1030.0,404.7 L1052.9,399.6 L1075.8,408.5 L1098.7,412.3 L1121.6,423.2 L1144.5,420.2 L1167.5,409.7 L1190.4,388.2 L1213.3,403.8 L1236.2,419.0 L1259.1,426.0 L1282.0,442.8 L1304.9,468.7 L1327.8,462.9 L1350.7,490.0 L1373.6,491.8 L1396.6,495.9 L1419.5,484.8 L1442.4,497.0 L1465.3,503.9 L1488.2,502.8 L1511.1,506.9 L1534.0,519.3 L1556.9,527.0 L1579.8,533.2 L1602.7,527.2 L1625.7,533.1 L1648.6,548.2 L1671.5,538.7 L1694.4,528.2 L1717.3,517.7 L1740.2,495.2 L1763.1,517.1 L1786.0,504.2 L1808.9,485.1 L1831.8,522.2" stroke="#e06010" stroke-width="1.7" fill="none"/><path d="M388.5,407.4 L411.4,453.6 L434.3,378.2 L457.2,430.1 L480.2,535.0 L503.1,552.6 L526.0,528.0 L548.9,531.4 L571.8,550.6 L594.7,507.9 L617.6,508.3 L640.5,508.3 L663.4,519.7 L686.3,485.7 L709.2,475.4 L732.2,468.1 L755.1,514.5 L778.0,510.7 L800.9,527.2 L823.8,557.0 L846.7,531.0 L869.6,516.7 L892.5,500.2 L915.4,493.8 L938.4,469.6 L961.3,428.8 L984.2,408.2 L1007.1,388.7 L1030.0,379.1 L1052.9,385.5 L1075.8,375.9 L1098.7,353.7 L1121.6,389.3 L1144.5,396.2 L1167.5,413.5 L1190.4,410.1 L1213.3,426.4 L1236.2,437.5 L1259.1,423.1 L1282.0,419.4 L1304.9,437.4 L1327.8,441.8 L1350.7,409.1 L1373.6,436.2 L1396.6,464.7 L1419.5,445.7 L1442.4,439.1 L1465.3,448.9 L1488.2,469.9 L1511.1,447.6 L1534.0,435.6 L1556.9,462.0 L1579.8,481.7 L1602.7,474.8 L1625.7,448.3 L1648.6,456.2 L1671.5,463.8 L1694.4,449.4 L1717.3,402.8 L1740.2,439.4 L1763.1,448.4 L1786.0,465.9 L1808.9,462.2 L1831.8,471.4" stroke="#18b0b0" stroke-width="1.7" fill="none"/><path d="M388.5,406.8 L411.4,453.9 L434.3,378.4 L457.2,423.4 L480.2,546.0 L503.1,553.6 L526.0,526.5 L548.9,536.1 L571.8,549.6 L594.7,515.7 L617.6,486.2 L640.5,498.3 L663.4,524.6 L686.3,505.5 L709.2,467.6 L732.2,476.2 L755.1,516.2 L778.0,509.2 L800.9,530.3 L823.8,535.0 L846.7,550.0 L869.6,550.5 L892.5,545.8 L915.4,550.9 L938.4,511.5 L961.3,486.9 L984.2,457.7 L1007.1,441.3 L1030.0,439.8 L1052.9,449.4 L1075.8,443.3 L1098.7,456.7 L1121.6,464.3 L1144.5,463.6 L1167.5,470.0 L1190.4,474.6 L1213.3,491.9 L1236.2,483.5 L1259.1,480.9 L1282.0,467.7 L1304.9,498.5 L1327.8,505.7 L1350.7,507.1 L1373.6,521.9 L1396.6,529.5 L1419.5,518.7 L1442.4,525.9 L1465.3,524.1 L1488.2,523.9 L1511.1,545.6 L1534.0,563.1 L1556.9,575.2 L1579.8,590.8 L1602.7,568.9 L1625.7,579.9 L1648.6,573.5 L1671.5,577.0 L1694.4,568.6 L1717.3,572.4 L1740.2,569.4 L1763.1,572.4 L1786.0,548.5 L1808.9,523.6 L1831.8,518.3" stroke="#20a890" stroke-width="1.7" fill="none"/><path d="M388.5,406.5 L411.4,450.2 L434.3,394.2 L457.2,415.0 L480.2,560.1 L503.1,559.2 L526.0,526.1 L548.9,523.2 L571.8,532.0 L594.7,492.6 L617.6,488.1 L640.5,516.6 L663.4,532.0 L686.3,542.7 L709.2,514.0 L732.2,480.0 L755.1,529.8 L778.0,541.0 L800.9,537.0 L823.8,554.1 L846.7,530.0 L869.6,505.2 L892.5,496.1 L915.4,493.3 L938.4,485.4 L961.3,465.5 L984.2,458.6 L1007.1,423.4 L1030.0,435.8 L1052.9,430.4 L1075.8,428.9 L1098.7,417.1 L1121.6,437.1 L1144.5,432.6 L1167.5,444.3 L1190.4,431.7 L1213.3,449.4 L1236.2,458.2 L1259.1,451.5 L1282.0,470.1 L1304.9,468.9 L1327.8,456.0 L1350.7,437.5 L1373.6,457.6 L1396.6,468.1 L1419.5,458.3 L1442.4,444.8 L1465.3,447.2 L1488.2,440.9 L1511.1,448.6 L1534.0,457.3 L1556.9,481.6 L1579.8,496.0 L1602.7,489.0 L1625.7,489.7 L1648.6,507.1 L1671.5,508.8 L1694.4,489.4 L1717.3,490.5 L1740.2,489.8 L1763.1,515.0 L1786.0,496.8 L1808.9,472.8 L1831.8,477.7" stroke="#20a060" stroke-width="1.7" fill="none"/><path d="M388.5,406.7 L411.4,453.1 L434.3,390.5 L457.2,425.7 L480.2,518.2 L503.1,528.1 L526.0,497.3 L548.9,503.0 L571.8,514.1 L594.7,484.3 L617.6,494.8 L640.5,507.0 L663.4,531.3 L686.3,515.3 L709.2,488.7 L732.2,494.5 L755.1,542.6 L778.0,546.2 L800.9,549.3 L823.8,573.0 L846.7,565.2 L869.6,561.7 L892.5,577.3 L915.4,572.7 L938.4,563.4 L961.3,546.8 L984.2,514.4 L1007.1,505.7 L1030.0,507.0 L1052.9,499.1 L1075.8,499.6 L1098.7,496.0 L1121.6,519.8 L1144.5,505.8 L1167.5,511.5 L1190.4,493.4 L1213.3,524.2 L1236.2,521.5 L1259.1,503.1 L1282.0,505.9 L1304.9,500.6 L1327.8,511.0 L1350.7,501.3 L1373.6,482.6 L1396.6,498.8 L1419.5,512.1 L1442.4,513.6 L1465.3,516.0 L1488.2,537.3 L1511.1,543.4 L1534.0,560.0 L1556.9,581.3 L1579.8,594.0 L1602.7,558.5 L1625.7,554.9 L1648.6,562.3 L1671.5,566.5 L1694.4,558.8 L1717.3,527.2 L1740.2,541.5 L1763.1,545.1 L1786.0,536.7 L1808.9,521.6 L1831.8,521.9" stroke="#30b040" stroke-width="1.7" fill="none"/><path d="M388.5,407.0 L411.4,448.4 L434.3,388.6 L457.2,421.4 L480.2,529.5 L503.1,534.5 L526.0,502.3 L548.9,514.7 L571.8,520.8 L594.7,511.4 L617.6,494.2 L640.5,509.1 L663.4,512.7 L686.3,501.4 L709.2,457.1 L732.2,459.7 L755.1,513.9 L778.0,516.7 L800.9,526.8 L823.8,524.6 L846.7,507.0 L869.6,517.0 L892.5,509.4 L915.4,497.4 L938.4,484.7 L961.3,465.4 L984.2,451.4 L1007.1,421.6 L1030.0,437.3 L1052.9,442.8 L1075.8,427.8 L1098.7,419.6 L1121.6,445.6 L1144.5,435.9 L1167.5,447.6 L1190.4,454.3 L1213.3,470.8 L1236.2,476.5 L1259.1,456.6 L1282.0,470.5 L1304.9,487.8 L1327.8,491.1 L1350.7,502.6 L1373.6,477.7 L1396.6,500.6 L1419.5,495.4 L1442.4,481.6 L1465.3,478.0 L1488.2,517.3 L1511.1,497.3 L1534.0,496.6 L1556.9,484.7 L1579.8,506.5 L1602.7,502.5 L1625.7,488.9 L1648.6,512.6 L1671.5,513.1 L1694.4,520.4 L1717.3,519.6 L1740.2,516.9 L1763.1,519.6 L1786.0,507.0 L1808.9,490.3 L1831.8,478.5" stroke="#50b830" stroke-width="1.7" fill="none"/><path d="M388.5,406.5 L411.4,453.6 L434.3,360.1 L457.2,428.0 L480.2,542.7 L503.1,555.5 L526.0,535.1 L548.9,538.8 L571.8,554.9 L594.7,501.3 L617.6,482.8 L640.5,504.6 L663.4,525.4 L686.3,488.5 L709.2,464.4 L732.2,460.5 L755.1,525.5 L778.0,530.4 L800.9,531.8 L823.8,523.4 L846.7,512.2 L869.6,486.8 L892.5,461.4 L915.4,432.3 L938.4,409.4 L961.3,374.3 L984.2,364.4 L1007.1,357.4 L1030.0,342.6 L1052.9,339.0 L1075.8,342.7 L1098.7,350.5 L1121.6,367.4 L1144.5,372.9 L1167.5,375.8 L1190.4,382.5 L1213.3,384.3 L1236.2,390.5 L1259.1,366.9 L1282.0,396.0 L1304.9,421.6 L1327.8,389.6 L1350.7,382.9 L1373.6,380.4 L1396.6,366.9 L1419.5,365.3 L1442.4,356.9 L1465.3,390.5 L1488.2,399.9 L1511.1,388.4 L1534.0,391.2 L1556.9,415.0 L1579.8,443.1 L1602.7,432.9 L1625.7,409.0 L1648.6,407.6 L1671.5,416.8 L1694.4,398.8 L1717.3,402.4 L1740.2,408.2 L1763.1,415.9 L1786.0,402.0 L1808.9,394.1 L1831.8,382.5" stroke="#80b820" stroke-width="1.7" fill="none"/><path d="M388.5,406.4 L411.4,451.7 L434.3,349.4 L457.2,426.0 L480.2,585.7 L503.1,585.0 L526.0,548.0 L548.9,557.3 L571.8,566.5 L594.7,537.9 L617.6,549.3 L640.5,593.8 L663.4,585.7 L686.3,556.3 L709.2,517.3 L732.2,535.3 L755.1,600.1 L778.0,574.4 L800.9,570.1 L823.8,557.5 L846.7,574.4 L869.6,572.5 L892.5,568.0 L915.4,557.6 L938.4,563.1 L961.3,541.9 L984.2,520.2 L1007.1,491.0 L1030.0,472.3 L1052.9,466.4 L1075.8,465.8 L1098.7,438.6 L1121.6,448.5 L1144.5,467.1 L1167.5,461.3 L1190.4,447.3 L1213.3,477.5 L1236.2,455.6 L1259.1,458.4 L1282.0,464.6 L1304.9,491.4 L1327.8,462.8 L1350.7,443.7 L1373.6,466.2 L1396.6,497.7 L1419.5,513.0 L1442.4,524.4 L1465.3,530.0 L1488.2,537.9 L1511.1,545.5 L1534.0,561.5 L1556.9,559.7 L1579.8,555.6 L1602.7,537.8 L1625.7,530.4 L1648.6,512.8 L1671.5,528.1 L1694.4,533.6 L1717.3,521.0 L1740.2,542.7 L1763.1,532.4 L1786.0,532.3 L1808.9,517.3 L1831.8,516.3" stroke="#b0b010" stroke-width="1.7" fill="none"/><path d="M388.5,407.6 L411.4,454.0 L434.3,378.7 L457.2,440.0 L480.2,546.8 L503.1,544.5 L526.0,517.1 L548.9,515.2 L571.8,542.7 L594.7,490.1 L617.6,448.0 L640.5,436.9 L663.4,457.6 L686.3,442.3 L709.2,427.1 L732.2,428.1 L755.1,446.8 L778.0,451.2 L800.9,435.2 L823.8,428.6 L846.7,413.1 L869.6,406.0 L892.5,391.4 L915.4,378.0 L938.4,380.8 L961.3,369.0 L984.2,342.0 L1007.1,343.3 L1030.0,320.6 L1052.9,321.8 L1075.8,321.4 L1098.7,323.3 L1121.6,319.3 L1144.5,322.6 L1167.5,320.2 L1190.4,319.2 L1213.3,325.2 L1236.2,331.1 L1259.1,333.8 L1282.0,319.3 L1304.9,321.8 L1327.8,332.6 L1350.7,319.7 L1373.6,331.8 L1396.6,327.7 L1419.5,320.3 L1442.4,320.8 L1465.3,337.6 L1488.2,362.0 L1511.1,348.1 L1534.0,362.4 L1556.9,380.3 L1579.8,394.5 L1602.7,395.5 L1625.7,398.3 L1648.6,406.2 L1671.5,414.0 L1694.4,398.5 L1717.3,389.9 L1740.2,379.6 L1763.1,345.4 L1786.0,343.9 L1808.9,329.6 L1831.8,328.7" stroke="#c8a010" stroke-width="1.7" fill="none"/><path d="M388.5,407.6 L411.4,453.7 L434.3,367.4 L457.2,435.3 L480.2,552.2 L503.1,566.7 L526.0,532.5 L548.9,535.2 L571.8,547.3 L594.7,504.7 L617.6,531.1 L640.5,537.5 L663.4,531.7 L686.3,525.9 L709.2,496.2 L732.2,492.1 L755.1,521.5 L778.0,489.5 L800.9,473.5 L823.8,468.8 L846.7,451.8 L869.6,450.7 L892.5,442.8 L915.4,442.0 L938.4,423.7 L961.3,420.5 L984.2,393.1 L1007.1,394.3 L1030.0,387.7 L1052.9,402.7 L1075.8,396.7 L1098.7,395.1 L1121.6,406.2 L1144.5,409.7 L1167.5,403.1 L1190.4,436.2 L1213.3,446.0 L1236.2,447.4 L1259.1,459.4 L1282.0,458.1 L1304.9,481.9 L1327.8,469.8 L1350.7,483.7 L1373.6,497.5 L1396.6,511.2 L1419.5,496.4 L1442.4,489.7 L1465.3,474.9 L1488.2,505.4 L1511.1,507.3 L1534.0,494.6 L1556.9,530.3 L1579.8,540.1 L1602.7,533.4 L1625.7,517.2 L1648.6,524.7 L1671.5,534.1 L1694.4,546.3 L1717.3,509.9 L1740.2,520.1 L1763.1,520.9 L1786.0,493.5 L1808.9,482.7 L1831.8,485.3" stroke="#2f6fdf" stroke-width="1.7" fill="none"/><path d="M388.5,406.6 L411.4,450.6 L434.3,342.4 L457.2,422.6 L480.2,538.2 L503.1,552.9 L526.0,507.8 L548.9,508.4 L571.8,523.7 L594.7,510.1 L617.6,494.3 L640.5,527.1 L663.4,533.9 L686.3,501.2 L709.2,441.3 L732.2,438.4 L755.1,510.0 L778.0,501.5 L800.9,479.9 L823.8,489.3 L846.7,459.6 L869.6,433.6 L892.5,435.6 L915.4,434.3 L938.4,435.9 L961.3,413.5 L984.2,396.6 L1007.1,384.6 L1030.0,376.5 L1052.9,380.4 L1075.8,357.0 L1098.7,327.5 L1121.6,336.1 L1144.5,351.4 L1167.5,352.9 L1190.4,321.8 L1213.3,381.2 L1236.2,371.9 L1259.1,373.5 L1282.0,386.4 L1304.9,403.5 L1327.8,398.4 L1350.7,374.2 L1373.6,397.4 L1396.6,384.1 L1419.5,380.8 L1442.4,390.4 L1465.3,397.5 L1488.2,385.5 L1511.1,379.8 L1534.0,390.4 L1556.9,415.9 L1579.8,411.7 L1602.7,396.2 L1625.7,398.6 L1648.6,421.9 L1671.5,425.9 L1694.4,407.7 L1717.3,381.9 L1740.2,386.4 L1763.1,392.3 L1786.0,367.1 L1808.9,340.7 L1831.8,361.1" stroke="#17c0c0" stroke-width="1.7" fill="none"/><path d="M388.5,408.5 L411.4,446.8 L434.3,352.1 L457.2,446.3 L480.2,560.2 L503.1,568.8 L526.0,538.3 L548.9,552.1 L571.8,564.9 L594.7,525.1 L617.6,511.3 L640.5,553.6 L663.4,569.5 L686.3,514.3 L709.2,481.8 L732.2,495.6 L755.1,544.8 L778.0,554.2 L800.9,564.0 L823.8,545.2 L846.7,521.2 L869.6,513.9 L892.5,526.2 L915.4,516.9 L938.4,504.4 L961.3,473.2 L984.2,450.2 L1007.1,446.2 L1030.0,444.5 L1052.9,417.1 L1075.8,388.7 L1098.7,381.5 L1121.6,393.7 L1144.5,381.5 L1167.5,372.1 L1190.4,385.3 L1213.3,421.4 L1236.2,422.2 L1259.1,434.7 L1282.0,458.0 L1304.9,466.0 L1327.8,430.1 L1350.7,425.3 L1373.6,431.6 L1396.6,447.8 L1419.5,447.8 L1442.4,455.7 L1465.3,475.4 L1488.2,482.0 L1511.1,490.3 L1534.0,492.2 L1556.9,514.6 L1579.8,529.7 L1602.7,490.9 L1625.7,469.9 L1648.6,479.3 L1671.5,492.7 L1694.4,459.2 L1717.3,449.8 L1740.2,440.7 L1763.1,454.8 L1786.0,451.5 L1808.9,436.4 L1831.8,441.9" stroke="#40c040" stroke-width="1.7" fill="none"/><path d="M388.5,406.8 L411.4,449.7 L434.3,394.6 L457.2,426.8 L480.2,548.2 L503.1,562.4 L526.0,533.4 L548.9,535.5 L571.8,541.2 L594.7,490.6 L617.6,492.5 L640.5,512.2 L663.4,531.7 L686.3,502.9 L709.2,492.9 L732.2,504.6 L755.1,565.1 L778.0,544.6 L800.9,584.6 L823.8,599.1 L846.7,574.5 L869.6,575.3 L892.5,555.2 L915.4,535.1 L938.4,513.8 L961.3,494.6 L984.2,482.7 L1007.1,470.4 L1030.0,463.0 L1052.9,441.5 L1075.8,438.8 L1098.7,428.5 L1121.6,442.3 L1144.5,451.0 L1167.5,476.5 L1190.4,460.4 L1213.3,490.2 L1236.2,479.9 L1259.1,490.4 L1282.0,499.6 L1304.9,508.1 L1327.8,505.7 L1350.7,489.3 L1373.6,496.6 L1396.6,526.8 L1419.5,531.3 L1442.4,555.2 L1465.3,546.1 L1488.2,546.8 L1511.1,543.5 L1534.0,538.8 L1556.9,541.6 L1579.8,546.7 L1602.7,524.9 L1625.7,537.2 L1648.6,539.5 L1671.5,534.4 L1694.4,527.3 L1717.3,478.8 L1740.2,477.5 L1763.1,478.4 L1786.0,475.6 L1808.9,436.4 L1831.8,446.7" stroke="#1840c0" stroke-width="1.7" fill="none"/><path d="M388.5,408.7 L411.4,454.1 L434.3,344.4 L457.2,435.0 L480.2,552.2 L503.1,567.1 L526.0,530.0 L548.9,530.6 L571.8,542.8 L594.7,507.1 L617.6,481.4 L640.5,471.8 L663.4,490.5 L686.3,464.2 L709.2,426.8 L732.2,429.3 L755.1,497.8 L778.0,488.1 L800.9,476.2 L823.8,484.8 L846.7,471.3 L869.6,459.6 L892.5,449.3 L915.4,425.4 L938.4,421.7 L961.3,402.2 L984.2,382.2 L1007.1,367.6 L1030.0,359.7 L1052.9,344.7 L1075.8,336.2 L1098.7,328.9 L1121.6,350.2 L1144.5,351.6 L1167.5,353.1 L1190.4,350.1 L1213.3,361.0 L1236.2,350.4 L1259.1,347.3 L1282.0,331.7 L1304.9,351.9 L1327.8,364.9 L1350.7,360.5 L1373.6,363.4 L1396.6,391.0 L1419.5,398.7 L1442.4,406.0 L1465.3,383.1 L1488.2,416.9 L1511.1,429.5 L1534.0,439.9 L1556.9,450.0 L1579.8,436.7 L1602.7,450.6 L1625.7,442.1 L1648.6,434.3 L1671.5,456.0 L1694.4,423.8 L1717.3,387.4 L1740.2,395.2 L1763.1,370.9 L1786.0,337.8 L1808.9,337.6 L1831.8,311.5" stroke="#1c5cd0" stroke-width="1.7" fill="none"/><path d="M388.5,405.7 L411.4,453.3 L434.3,389.9 L457.2,429.4 L480.2,533.4 L503.1,542.2 L526.0,515.0 L548.9,525.0 L571.8,549.5 L594.7,508.7 L617.6,499.7 L640.5,544.6 L663.4,545.5 L686.3,511.4 L709.2,471.5 L732.2,458.6 L755.1,506.9 L778.0,505.2 L800.9,493.7 L823.8,482.6 L846.7,476.2 L869.6,454.7 L892.5,435.9 L915.4,438.2 L938.4,431.2 L961.3,399.3 L984.2,373.4 L1007.1,354.9 L1030.0,341.5 L1052.9,347.7 L1075.8,356.6 L1098.7,357.6 L1121.6,380.8 L1144.5,378.7 L1167.5,389.7 L1190.4,386.8 L1213.3,409.4 L1236.2,406.5 L1259.1,398.3 L1282.0,409.1 L1304.9,427.9 L1327.8,411.5 L1350.7,408.7 L1373.6,424.6 L1396.6,446.4 L1419.5,421.3 L1442.4,402.6 L1465.3,401.1 L1488.2,402.9 L1511.1,395.0 L1534.0,412.9 L1556.9,416.1 L1579.8,464.9 L1602.7,452.1 L1625.7,459.1 L1648.6,465.7 L1671.5,485.5 L1694.4,479.3 L1717.3,477.2 L1740.2,489.9 L1763.1,500.4 L1786.0,490.2 L1808.9,489.3 L1831.8,490.5" stroke="#2080d0" stroke-width="1.7" fill="none"/><path d="M388.5,406.8 L411.4,451.8 L434.3,384.0 L457.2,436.9 L480.2,553.3 L503.1,567.8 L526.0,535.6 L548.9,541.5 L571.8,543.2 L594.7,522.4 L617.6,490.7 L640.5,509.3 L663.4,490.9 L686.3,496.5 L709.2,449.6 L732.2,426.4 L755.1,487.4 L778.0,466.3 L800.9,441.4 L823.8,446.3 L846.7,428.9 L869.6,427.7 L892.5,429.4 L915.4,426.1 L938.4,437.6 L961.3,415.4 L984.2,394.1 L1007.1,360.1 L1030.0,356.2 L1052.9,348.7 L1075.8,350.7 L1098.7,337.8 L1121.6,350.5 L1144.5,361.8 L1167.5,378.5 L1190.4,380.9 L1213.3,401.8 L1236.2,398.3 L1259.1,403.9 L1282.0,423.7 L1304.9,434.0 L1327.8,455.4 L1350.7,441.4 L1373.6,436.9 L1396.6,470.0 L1419.5,469.0 L1442.4,464.4 L1465.3,476.0 L1488.2,482.8 L1511.1,458.1 L1534.0,439.9 L1556.9,427.5 L1579.8,446.7 L1602.7,399.5 L1625.7,410.0 L1648.6,406.6 L1671.5,408.0 L1694.4,410.0 L1717.3,415.3 L1740.2,400.4 L1763.1,419.9 L1786.0,412.6 L1808.9,414.8 L1831.8,423.9" stroke="#20a0c8" stroke-width="1.7" fill="none"/><path d="M388.5,407.3 L411.4,446.4 L434.3,363.7 L457.2,420.4 L480.2,551.2 L503.1,554.3 L526.0,521.3 L548.9,525.0 L571.8,535.5 L594.7,500.3 L617.6,468.1 L640.5,461.7 L663.4,477.1 L686.3,458.6 L709.2,428.5 L732.2,428.6 L755.1,457.3 L778.0,460.7 L800.9,460.6 L823.8,484.0 L846.7,492.0 L869.6,488.3 L892.5,473.9 L915.4,476.0 L938.4,472.6 L961.3,451.4 L984.2,443.4 L1007.1,422.5 L1030.0,425.7 L1052.9,420.4 L1075.8,415.4 L1098.7,402.6 L1121.6,410.8 L1144.5,416.3 L1167.5,413.8 L1190.4,393.8 L1213.3,433.0 L1236.2,445.4 L1259.1,434.9 L1282.0,452.6 L1304.9,432.4 L1327.8,437.4 L1350.7,442.6 L1373.6,456.9 L1396.6,459.9 L1419.5,464.7 L1442.4,465.1 L1465.3,457.8 L1488.2,458.1 L1511.1,469.8 L1534.0,475.6 L1556.9,469.9 L1579.8,461.9 L1602.7,450.0 L1625.7,435.2 L1648.6,433.8 L1671.5,437.2 L1694.4,432.9 L1717.3,396.9 L1740.2,420.1 L1763.1,424.1 L1786.0,428.3 L1808.9,403.1 L1831.8,401.1" stroke="#18b0b0" stroke-width="1.7" fill="none"/><path d="M388.5,407.5 L411.4,452.8 L434.3,399.6 L457.2,429.5 L480.2,540.8 L503.1,549.4 L526.0,517.0 L548.9,520.6 L571.8,535.0 L594.7,489.3 L617.6,502.2 L640.5,491.2 L663.4,507.3 L686.3,503.4 L709.2,456.0 L732.2,461.5 L755.1,505.0 L778.0,491.5 L800.9,497.9 L823.8,501.0 L846.7,492.5 L869.6,495.8 L892.5,476.2 L915.4,477.9 L938.4,441.5 L961.3,433.4 L984.2,418.0 L1007.1,433.5 L1030.0,398.1 L1052.9,407.3 L1075.8,417.3 L1098.7,408.0 L1121.6,410.7 L1144.5,411.8 L1167.5,426.5 L1190.4,397.3 L1213.3,435.1 L1236.2,429.6 L1259.1,438.7 L1282.0,434.3 L1304.9,437.0 L1327.8,425.3 L1350.7,416.2 L1373.6,433.1 L1396.6,456.0 L1419.5,463.9 L1442.4,443.1 L1465.3,458.7 L1488.2,489.5 L1511.1,474.0 L1534.0,465.5 L1556.9,500.5 L1579.8,498.8 L1602.7,476.6 L1625.7,485.9 L1648.6,486.2 L1671.5,489.2 L1694.4,484.0 L1717.3,471.4 L1740.2,468.5 L1763.1,475.9 L1786.0,461.8 L1808.9,451.5 L1831.8,466.5" stroke="#20a890" stroke-width="1.7" fill="none"/><path d="M388.5,406.5 L411.4,452.6 L434.3,405.3 L457.2,425.4 L480.2,555.2 L503.1,564.0 L526.0,541.1 L548.9,544.9 L571.8,565.5 L594.7,513.8 L617.6,513.5 L640.5,527.5 L663.4,556.1 L686.3,555.5 L709.2,538.9 L732.2,544.6 L755.1,595.3 L778.0,580.4 L800.9,601.4 L823.8,608.9 L846.7,579.3 L869.6,586.2 L892.5,585.9 L915.4,559.9 L938.4,565.4 L961.3,534.0 L984.2,509.9 L1007.1,510.1 L1030.0,507.6 L1052.9,503.9 L1075.8,497.6 L1098.7,504.5 L1121.6,523.0 L1144.5,526.1 L1167.5,530.7 L1190.4,534.7 L1213.3,565.4 L1236.2,558.8 L1259.1,568.1 L1282.0,551.3 L1304.9,550.6 L1327.8,540.8 L1350.7,529.1 L1373.6,551.6 L1396.6,558.9 L1419.5,537.2 L1442.4,541.1 L1465.3,544.8 L1488.2,561.8 L1511.1,565.5 L1534.0,557.3 L1556.9,568.3 L1579.8,596.4 L1602.7,579.1 L1625.7,577.4 L1648.6,594.4 L1671.5,592.2 L1694.4,566.6 L1717.3,553.2 L1740.2,585.7 L1763.1,599.5 L1786.0,614.4 L1808.9,614.4 L1831.8,611.2" stroke="#20a060" stroke-width="1.7" fill="none"/><path d="M388.5,404.5 L411.4,446.9 L434.3,340.1 L457.2,437.3 L480.2,547.2 L503.1,555.6 L526.0,518.3 L548.9,518.0 L571.8,532.9 L594.7,505.5 L617.6,482.7 L640.5,480.9 L663.4,488.9 L686.3,464.6 L709.2,425.3 L732.2,426.4 L755.1,487.8 L778.0,466.5 L800.9,455.1 L823.8,473.2 L846.7,475.3 L869.6,457.7 L892.5,443.1 L915.4,460.5 L938.4,466.5 L961.3,454.0 L984.2,438.0 L1007.1,420.5 L1030.0,417.3 L1052.9,405.4 L1075.8,403.9 L1098.7,372.4 L1121.6,403.7 L1144.5,412.5 L1167.5,420.9 L1190.4,405.9 L1213.3,407.9 L1236.2,417.5 L1259.1,419.6 L1282.0,417.6 L1304.9,457.4 L1327.8,440.5 L1350.7,439.3 L1373.6,433.9 L1396.6,442.0 L1419.5,449.9 L1442.4,460.9 L1465.3,465.4 L1488.2,457.9 L1511.1,432.0 L1534.0,425.6 L1556.9,458.9 L1579.8,465.8 L1602.7,462.5 L1625.7,460.8 L1648.6,458.6 L1671.5,454.2 L1694.4,438.6 L1717.3,415.5 L1740.2,410.7 L1763.1,406.8 L1786.0,384.5 L1808.9,350.9 L1831.8,360.0" stroke="#30b040" stroke-width="1.7" fill="none"/><path d="M388.5,406.5 L411.4,447.6 L434.3,350.7 L457.2,417.1 L480.2,544.9 L503.1,543.7 L526.0,499.4 L548.9,511.4 L571.8,518.7 L594.7,493.1 L617.6,492.3 L640.5,503.7 L663.4,503.6 L686.3,443.4 L709.2,433.5 L732.2,439.0 L755.1,470.7 L778.0,447.1 L800.9,451.2 L823.8,425.7 L846.7,421.7 L869.6,420.7 L892.5,394.4 L915.4,378.2 L938.4,393.3 L961.3,364.9 L984.2,354.7 L1007.1,339.1 L1030.0,319.2 L1052.9,322.1 L1075.8,337.4 L1098.7,323.4 L1121.6,329.7 L1144.5,350.2 L1167.5,338.2 L1190.4,330.3 L1213.3,336.5 L1236.2,322.6 L1259.1,322.8 L1282.0,323.0 L1304.9,322.1 L1327.8,319.9 L1350.7,321.3 L1373.6,319.4 L1396.6,346.6 L1419.5,357.4 L1442.4,348.8 L1465.3,377.6 L1488.2,398.1 L1511.1,398.1 L1534.0,404.6 L1556.9,409.9 L1579.8,413.2 L1602.7,417.7 L1625.7,410.9 L1648.6,435.0 L1671.5,401.0 L1694.4,367.6 L1717.3,334.8 L1740.2,336.6 L1763.1,333.4 L1786.0,327.2 L1808.9,312.9 L1831.8,308.8" stroke="#50b830" stroke-width="1.7" fill="none"/><path d="M388.5,407.9 L411.4,449.9 L434.3,355.5 L457.2,420.6 L480.2,560.5 L503.1,567.1 L526.0,537.3 L548.9,542.5 L571.8,550.6 L594.7,490.6 L617.6,493.0 L640.5,483.0 L663.4,493.9 L686.3,465.5 L709.2,473.4 L732.2,502.2 L755.1,557.2 L778.0,549.5 L800.9,547.5 L823.8,547.4 L846.7,573.4 L869.6,554.4 L892.5,516.3 L915.4,507.8 L938.4,494.7 L961.3,464.6 L984.2,462.4 L1007.1,469.4 L1030.0,447.7 L1052.9,458.3 L1075.8,476.4 L1098.7,452.4 L1121.6,459.6 L1144.5,467.2 L1167.5,474.4 L1190.4,450.1 L1213.3,465.3 L1236.2,453.0 L1259.1,481.2 L1282.0,471.0 L1304.9,481.5 L1327.8,478.1 L1350.7,462.5 L1373.6,469.0 L1396.6,487.2 L1419.5,486.5 L1442.4,529.3 L1465.3,521.7 L1488.2,516.8 L1511.1,503.0 L1534.0,480.7 L1556.9,481.0 L1579.8,494.1 L1602.7,479.0 L1625.7,479.0 L1648.6,497.0 L1671.5,514.0 L1694.4,522.9 L1717.3,508.9 L1740.2,507.4 L1763.1,519.0 L1786.0,497.7 L1808.9,498.9 L1831.8,508.4" stroke="#80b820" stroke-width="1.7" fill="none"/><path d="M388.5,407.6 L411.4,453.2 L434.3,385.7 L457.2,446.1 L480.2,568.1 L503.1,570.8 L526.0,543.1 L548.9,549.0 L571.8,563.2 L594.7,508.3 L617.6,505.9 L640.5,539.1 L663.4,573.3 L686.3,562.9 L709.2,539.0 L732.2,550.6 L755.1,605.9 L778.0,597.1 L800.9,570.8 L823.8,580.4 L846.7,588.5 L869.6,584.3 L892.5,587.4 L915.4,575.3 L938.4,569.0 L961.3,533.9 L984.2,527.4 L1007.1,509.1 L1030.0,523.1 L1052.9,499.2 L1075.8,507.4 L1098.7,487.5 L1121.6,508.6 L1144.5,509.6 L1167.5,496.7 L1190.4,467.0 L1213.3,486.4 L1236.2,485.3 L1259.1,482.1 L1282.0,496.9 L1304.9,513.2 L1327.8,518.9 L1350.7,501.2 L1373.6,513.5 L1396.6,533.2 L1419.5,544.3 L1442.4,557.1 L1465.3,558.9 L1488.2,568.4 L1511.1,532.1 L1534.0,559.8 L1556.9,576.0 L1579.8,593.8 L1602.7,576.5 L1625.7,567.1 L1648.6,547.4 L1671.5,543.2 L1694.4,523.8 L1717.3,512.3 L1740.2,507.8 L1763.1,520.6 L1786.0,521.4 L1808.9,514.2 L1831.8,524.1" stroke="#b0b010" stroke-width="1.7" fill="none"/><path d="M388.5,406.6 L411.4,450.6 L434.3,369.9 L457.2,444.4 L480.2,547.1 L503.1,551.7 L526.0,521.4 L548.9,524.3 L571.8,533.0 L594.7,495.1 L617.6,505.0 L640.5,515.3 L663.4,526.1 L686.3,493.6 L709.2,474.8 L732.2,445.7 L755.1,514.3 L778.0,498.3 L800.9,522.6 L823.8,558.4 L846.7,552.2 L869.6,534.6 L892.5,514.7 L915.4,511.9 L938.4,499.8 L961.3,475.5 L984.2,470.8 L1007.1,480.7 L1030.0,482.1 L1052.9,471.2 L1075.8,475.1 L1098.7,471.2 L1121.6,487.9 L1144.5,483.7 L1167.5,480.5 L1190.4,459.8 L1213.3,490.5 L1236.2,509.5 L1259.1,501.4 L1282.0,513.8 L1304.9,566.5 L1327.8,566.3 L1350.7,575.3 L1373.6,574.8 L1396.6,583.3 L1419.5,591.0 L1442.4,570.1 L1465.3,576.8 L1488.2,578.4 L1511.1,581.3 L1534.0,566.8 L1556.9,561.9 L1579.8,560.5 L1602.7,539.3 L1625.7,547.9 L1648.6,537.3 L1671.5,582.3 L1694.4,562.2 L1717.3,537.6 L1740.2,527.8 L1763.1,529.2 L1786.0,521.4 L1808.9,519.0 L1831.8,542.3" stroke="#c8a010" stroke-width="1.7" fill="none"/><path d="M388.5,405.1 L411.4,445.5 L434.3,364.8 L457.2,419.5 L480.2,550.2 L503.1,550.6 L526.0,530.1 L548.9,546.1 L571.8,546.6 L594.7,506.8 L617.6,479.5 L640.5,495.8 L663.4,507.9 L686.3,490.6 L709.2,480.3 L732.2,497.0 L755.1,541.0 L778.0,544.4 L800.9,554.4 L823.8,535.3 L846.7,530.0 L869.6,510.7 L892.5,512.1 L915.4,519.9 L938.4,511.9 L961.3,503.1 L984.2,482.0 L1007.1,456.9 L1030.0,468.2 L1052.9,457.1 L1075.8,452.1 L1098.7,426.5 L1121.6,450.2 L1144.5,448.6 L1167.5,451.5 L1190.4,431.7 L1213.3,443.3 L1236.2,440.9 L1259.1,446.7 L1282.0,467.2 L1304.9,453.8 L1327.8,434.0 L1350.7,422.4 L1373.6,430.9 L1396.6,441.8 L1419.5,428.5 L1442.4,423.0 L1465.3,448.0 L1488.2,459.6 L1511.1,451.2 L1534.0,463.5 L1556.9,482.7 L1579.8,485.5 L1602.7,487.4 L1625.7,476.1 L1648.6,472.1 L1671.5,488.9 L1694.4,470.1 L1717.3,448.7 L1740.2,480.1 L1763.1,481.5 L1786.0,459.3 L1808.9,454.1 L1831.8,461.5" stroke="#7050c0" stroke-width="1.7" fill="none"/><path d="M388.5,408.2 L411.4,454.1 L434.3,401.7 L457.2,439.7 L480.2,516.1 L503.1,525.5 L526.0,501.9 L548.9,517.2 L571.8,537.5 L594.7,529.2 L617.6,521.9 L640.5,535.0 L663.4,545.6 L686.3,531.8 L709.2,481.4 L732.2,466.2 L755.1,489.4 L778.0,476.9 L800.9,481.9 L823.8,485.4 L846.7,464.6 L869.6,464.8 L892.5,431.2 L915.4,417.0 L938.4,396.0 L961.3,367.8 L984.2,346.2 L1007.1,336.0 L1030.0,321.8 L1052.9,330.2 L1075.8,336.0 L1098.7,337.6 L1121.6,331.8 L1144.5,328.0 L1167.5,319.7 L1190.4,320.5 L1213.3,332.1 L1236.2,328.6 L1259.1,339.7 L1282.0,340.5 L1304.9,353.6 L1327.8,332.7 L1350.7,325.7 L1373.6,335.4 L1396.6,341.0 L1419.5,319.0 L1442.4,320.0 L1465.3,320.6 L1488.2,318.2 L1511.1,324.1 L1534.0,325.4 L1556.9,319.9 L1579.8,342.9 L1602.7,346.3 L1625.7,324.5 L1648.6,365.1 L1671.5,365.4 L1694.4,324.6 L1717.3,305.8 L1740.2,287.9 L1763.1,275.7 L1786.0,278.3 L1808.9,275.8 L1831.8,269.5" stroke="#17c0c0" stroke-width="1.7" fill="none"/><path d="M388.5,408.9 L411.4,450.0 L434.3,404.8 L457.2,430.6 L480.2,547.2 L503.1,550.0 L526.0,509.9 L548.9,519.3 L571.8,531.7 L594.7,517.7 L617.6,505.1 L640.5,527.5 L663.4,519.5 L686.3,491.4 L709.2,462.0 L732.2,448.0 L755.1,502.1 L778.0,486.6 L800.9,477.6 L823.8,483.6 L846.7,456.4 L869.6,474.4 L892.5,442.8 L915.4,452.6 L938.4,458.2 L961.3,426.9 L984.2,414.4 L1007.1,409.2 L1030.0,405.9 L1052.9,401.1 L1075.8,386.3 L1098.7,381.4 L1121.6,386.9 L1144.5,371.6 L1167.5,374.1 L1190.4,376.3 L1213.3,398.4 L1236.2,402.0 L1259.1,397.4 L1282.0,401.7 L1304.9,400.6 L1327.8,396.1 L1350.7,394.7 L1373.6,396.8 L1396.6,415.5 L1419.5,383.6 L1442.4,390.7 L1465.3,398.0 L1488.2,424.3 L1511.1,414.7 L1534.0,423.6 L1556.9,423.9 L1579.8,425.6 L1602.7,404.2 L1625.7,401.4 L1648.6,395.2 L1671.5,412.3 L1694.4,378.1 L1717.3,356.1 L1740.2,357.9 L1763.1,354.0 L1786.0,349.2 L1808.9,315.4 L1831.8,327.2" stroke="#40c040" stroke-width="1.7" fill="none"/></g>
<path d="M896,972 L909,700 L922,972" stroke="#2a70d0" stroke-width="1.8" fill="none"/>
<path d="M995,972 L1006,690 L1018,972" stroke="#20a050" stroke-width="1.8" fill="none"/>
<path d="M1050,972 L1064,700 L1078,972" stroke="#18a8b8" stroke-width="1.8" fill="none"/>
<path d="M1083,972 L1093,700 L1104,972" stroke="#d08018" stroke-width="1.8" fill="none"/>
<path d="M1120,972 L1145,825 L1170,972" stroke="#c84a20" stroke-width="1.8" fill="none"/>
<path d="M862,972 L870,700 L880,972" stroke="#c8a010" stroke-width="1.8" fill="none"/>
<path d="M700,480 L711,150 L725,480" stroke="#c86414" stroke-width="2.2" fill="none"/>
<path d="M704,480 L711,362 L717,480" stroke="#1f5fd8" stroke-width="2.2" fill="none"/>
<path d="M1322,560 L1344,40 M1357,40 L1378,560" stroke="#b0302a" stroke-width="2.2" fill="none"/>
<path d="M1296,470 L1303,300 L1310,470" stroke="#b0302a" stroke-width="2" fill="none"/>
<path d="M1318,470 L1328,249 L1340,470" stroke="#1f5fd8" stroke-width="2" fill="none"/>
<path d="M457.2,462.0 L480.2,546.0 L503.1,545.0 L526.0,527.0 L548.9,535.0 L571.8,546.0 L594.7,543.0 L617.6,496.0 L640.5,501.0 L663.4,525.0 L686.3,501.0 L709.2,462.0 L732.2,437.0 L755.1,468.0 L778.0,505.0 L800.9,527.0 L823.8,535.0 L846.7,510.0 L869.6,476.0 L892.5,470.0 L915.4,462.0 L938.4,440.0 L961.3,418.0 L984.2,405.0 L1007.1,395.0 L1030.0,393.0 L1052.9,373.0 L1075.8,366.0 L1098.7,378.0 L1121.6,389.0 L1144.5,392.0 L1167.5,393.0 L1190.4,378.0 L1213.3,411.0 L1236.2,412.0 L1259.1,413.0 L1282.0,415.0 L1304.9,430.0 L1327.8,433.0 L1350.7,432.0 L1373.6,440.0 L1396.6,452.0 L1419.5,450.0 L1442.4,447.0 L1465.3,454.0 L1488.2,470.0 L1511.1,475.0 L1534.0,483.0 L1556.9,500.0 L1579.8,518.0 L1602.7,505.0 L1625.7,496.0 L1648.6,490.0 L1671.5,493.0 L1694.4,494.0 L1717.3,501.0 L1740.2,531.0 L1763.1,520.0 L1786.0,514.0 L1808.9,475.0 L1831.8,481.0" stroke="#10e010" stroke-width="5" fill="none" stroke-linejoin="round"/>
<path d="M594.7,500.0 L617.6,488.0 L640.5,515.0 L663.4,542.0 L686.3,483.0 L709.2,468.0 L732.2,470.0 L755.1,550.0 L778.0,515.0 L800.9,507.0 L823.8,505.0 L846.7,474.0 L869.6,488.0 L892.5,456.0 L915.4,451.0 L938.4,430.0 L961.3,407.0 L984.2,392.0 L1007.1,377.0 L1030.0,387.0 L1052.9,387.0 L1075.8,392.0 L1098.7,393.0 L1121.6,409.0 L1144.5,410.0 L1167.5,416.0 L1190.4,410.0 L1213.3,428.0 L1236.2,410.0 L1259.1,404.0 L1282.0,389.0 L1304.9,361.0 L1327.8,384.0 L1350.7,377.0 L1373.6,425.0 L1396.6,455.0 L1419.5,455.0 L1442.4,452.0 L1465.3,462.0 L1488.2,460.0 L1511.1,455.0 L1534.0,456.0 L1556.9,470.0 L1579.8,507.0 L1602.7,498.0 L1625.7,488.0 L1648.6,497.0 L1671.5,507.0 L1694.4,490.0 L1717.3,469.0 L1740.2,478.0 L1763.1,488.0 L1786.0,512.0 L1808.9,509.0 L1831.8,505.0" stroke="#1010ff" stroke-width="5" fill="none" stroke-linejoin="round"/>
<path d="M1330,960 L1351,470 L1372,960" stroke="#1010ff" stroke-width="5" fill="none"/>
<path d="M1692,960 L1716,516 L1741,960" stroke="#10e010" stroke-width="5" fill="none"/>
<path d="M1762,960 L1775,700 L1790,960" stroke="#10e010" stroke-width="4" fill="none"/>
<path d="M1740,962 L1762.5,962 L1785.4,895 L1808.3,933 L1831,943" stroke="#1010ff" stroke-width="5" fill="none" stroke-linejoin="round"/>
<path d="M732,930 L755,868 L778,915" stroke="#1010ff" stroke-width="5" fill="none" stroke-linejoin="round"/>
<line x1="785.5" y1="60.7" x2="785.5" y2="972" stroke="#fff" stroke-width="9" stroke-dasharray="26.5 9.5"/>
<g fill="#960000" opacity="0.45"><polygon points="388.5,407.5 411.4,446.2 434.3,374.4 457.2,458.0 469.5,502.4 469.5,502.4 457.2,500.5 434.3,500.0 411.4,519.0 388.5,523.4"/><polygon points="583.7,520.7 594.7,504.0 617.6,493.0 640.5,510.0 663.4,523.0 686.3,503.0 709.2,470.0 732.2,465.0 755.1,512.0 778.0,506.7 800.9,505.0 823.8,508.0 846.7,498.0 869.6,487.0 892.5,473.0 915.4,466.0 938.4,456.0 961.3,432.0 984.2,418.0 1007.1,405.0 1030.0,402.0 1052.9,394.0 1075.8,388.0 1098.7,381.0 1121.6,397.0 1144.5,398.0 1167.5,404.0 1190.4,398.0 1213.3,418.0 1236.2,419.0 1259.1,421.0 1282.0,425.0 1304.9,436.0 1327.8,433.0 1350.7,430.0 1373.6,443.0 1396.6,456.0 1419.5,452.0 1442.4,448.0 1465.3,459.0 1488.2,470.0 1511.1,468.0 1534.0,465.0 1556.9,477.0 1579.8,489.0 1602.7,469.0 1625.7,464.0 1648.6,470.0 1671.5,477.0 1694.4,466.0 1717.3,454.0 1740.2,461.0 1763.1,466.0 1786.0,454.0 1808.9,442.0 1831.8,448.0 1831.8,479.4 1808.9,463.7 1786.0,485.4 1763.1,487.8 1740.2,471.0 1717.3,461.3 1694.4,473.0 1671.5,485.4 1648.6,479.4 1625.7,477.0 1602.7,500.0 1579.8,502.3 1556.9,491.0 1534.0,479.4 1511.1,483.0 1488.2,486.5 1465.3,477.0 1442.4,471.0 1419.5,486.5 1396.6,489.0 1373.6,473.0 1350.7,468.4 1327.8,484.0 1304.9,486.5 1282.0,482.0 1259.1,477.0 1236.2,498.0 1213.3,497.0 1190.4,484.0 1167.5,470.0 1144.5,482.0 1121.6,495.6 1098.7,493.0 1075.8,480.0 1052.9,497.0 1030.0,505.0 1007.1,498.0 984.2,491.0 961.3,500.0 938.4,512.0 915.4,507.0 892.5,503.0 869.6,527.0 846.7,534.0 823.8,523.0 800.9,510.0 778.0,534.0 755.1,539.0 732.2,525.0 709.2,513.0 686.3,527.0 663.4,531.0 640.5,528.5 617.6,513.3 594.7,520.5 583.7,520.7"/></g>
<g fill="#0c0c90" opacity="0.3"><polygon points="469.5,502.4 480.2,541.0 503.1,550.4 526.0,519.2 548.9,526.0 571.8,538.8 583.7,520.7 583.7,520.7 571.8,521.0 548.9,509.0 526.0,497.0 503.1,507.5 480.2,504.0 469.5,502.4"/></g>
<polyline points="388.5,523.4 411.4,519.0 434.3,500.0 457.2,500.5 480.2,504.0 503.1,507.5 526.0,497.0 548.9,509.0 571.8,521.0 594.7,520.5 617.6,513.3 640.5,528.5 663.4,531.0 686.3,527.0 709.2,513.0 732.2,525.0 755.1,539.0 778.0,534.0 800.9,510.0 823.8,523.0 846.7,534.0 869.6,527.0 892.5,503.0 915.4,507.0 938.4,512.0 961.3,500.0 984.2,491.0 1007.1,498.0 1030.0,505.0 1052.9,497.0 1075.8,480.0 1098.7,493.0 1121.6,495.6 1144.5,482.0 1167.5,470.0 1190.4,484.0 1213.3,497.0 1236.2,498.0 1259.1,477.0 1282.0,482.0 1304.9,486.5 1327.8,484.0 1350.7,468.4 1373.6,473.0 1396.6,489.0 1419.5,486.5 1442.4,471.0 1465.3,477.0 1488.2,486.5 1511.1,483.0 1534.0,479.4 1556.9,491.0 1579.8,502.3 1602.7,500.0 1625.7,477.0 1648.6,479.4 1671.5,485.4 1694.4,473.0 1717.3,461.3 1740.2,471.0 1763.1,487.8 1786.0,485.4 1808.9,463.7 1831.8,479.4" stroke="#ff0000" stroke-width="8" fill="none" stroke-linejoin="round"/>
<polyline points="388.5,407.5 411.4,446.2 434.3,374.4 457.2,458.0 480.2,541.0 503.1,550.4 526.0,519.2 548.9,526.0 571.8,538.8 594.7,504.0 617.6,493.0 640.5,510.0 663.4,523.0 686.3,503.0 709.2,470.0 732.2,465.0 755.1,512.0 778.0,506.7 800.9,505.0 823.8,508.0 846.7,498.0 869.6,487.0 892.5,473.0 915.4,466.0 938.4,456.0 961.3,432.0 984.2,418.0 1007.1,405.0 1030.0,402.0 1052.9,394.0 1075.8,388.0 1098.7,381.0 1121.6,397.0 1144.5,398.0 1167.5,404.0 1190.4,398.0 1213.3,418.0 1236.2,419.0 1259.1,421.0 1282.0,425.0 1304.9,436.0 1327.8,433.0 1350.7,430.0 1373.6,443.0 1396.6,456.0 1419.5,452.0 1442.4,448.0 1465.3,459.0 1488.2,470.0 1511.1,468.0 1534.0,465.0 1556.9,477.0 1579.8,489.0 1602.7,469.0 1625.7,464.0 1648.6,470.0 1671.5,477.0 1694.4,466.0 1717.3,454.0 1740.2,461.0 1763.1,466.0 1786.0,454.0 1808.9,442.0 1831.8,448.0" stroke="#ffffff" stroke-width="8" fill="none" stroke-linejoin="miter"/>
<path d="M366.8,51 V974 M366,52 H1831.5 M1830.6,51 V974" stroke="#c8c8c8" stroke-width="2.2" fill="none"/>
<path d="M1819.0,973.0H1830 M1823.5,950.0H1830 M1819.0,926.9H1830 M1823.5,903.9H1830 M1819.0,880.8H1830 M1823.5,857.8H1830 M1819.0,834.7H1830 M1823.5,811.6H1830 M1819.0,788.6H1830 M1823.5,765.5H1830 M1819.0,742.5H1830 M1823.5,719.5H1830 M1819.0,696.4H1830 M1823.5,673.3H1830 M1819.0,650.3H1830 M1823.5,627.2H1830 M1819.0,604.2H1830 M1823.5,581.1H1830 M1819.0,558.1H1830 M1823.5,535.0H1830 M1819.0,512.0H1830 M1823.5,488.9H1830 M1819.0,465.9H1830 M1823.5,442.9H1830 M1819.0,419.8H1830 M1823.5,396.8H1830 M1819.0,373.7H1830 M1823.5,350.6H1830 M1819.0,327.6H1830 M1823.5,304.5H1830 M1819.0,281.5H1830 M1823.5,258.4H1830 M1819.0,235.4H1830 M1823.5,212.4H1830 M1819.0,189.3H1830 M1823.5,166.2H1830 M1819.0,143.2H1830 M1823.5,120.1H1830 M1819.0,97.1H1830 M1823.5,74.0H1830" stroke="#e8e8e8" stroke-width="2.2"/>
<rect x="388.4" y="63" width="373.6" height="94.4" fill="#000" stroke="#fff" stroke-width="2"/>
<rect x="802" y="65.2" width="726.5" height="74.3" fill="#000" stroke="#fff" stroke-width="2"/>
<rect x="381" y="577.9" width="375" height="217.5" fill="#000" stroke="#fbd3ae" stroke-width="2.2"/>
<rect x="812" y="634" width="981.5" height="158.8" fill="#000" stroke="#c62626" stroke-width="2.2"/>
<polygon points="365.6,973 365.6,973.0 388.5,973.0 411.4,973.0 434.3,973.0 457.2,973.0 480.2,973.0 503.1,973.0 526.0,973.0 548.9,973.0 571.8,973.0 594.7,973.0 617.6,972.0 640.5,959.0 663.4,852.0 686.3,744.0 709.2,777.0 732.2,845.0 755.1,914.0 778.0,917.0 800.9,903.0 823.8,909.0 846.7,896.0 869.6,962.0 892.5,961.0 915.4,958.5 938.4,961.0 961.3,965.0 984.2,968.0 1007.1,968.0 1030.0,961.0 1052.9,963.5 1075.8,958.0 1098.7,963.0 1121.6,966.0 1144.5,965.5 1167.5,959.5 1190.4,965.0 1213.3,970.5 1236.2,953.0 1259.1,936.0 1282.0,934.5 1304.9,933.3 1327.8,888.0 1350.7,844.0 1373.6,912.0 1396.6,946.0 1419.5,925.4 1442.4,914.0 1465.3,929.8 1488.2,934.0 1511.1,938.0 1534.0,941.0 1556.9,960.6 1579.8,957.0 1602.7,947.0 1625.7,938.0 1648.6,962.5 1671.5,958.0 1694.4,954.0 1717.3,933.4 1740.2,951.0 1763.1,959.5 1786.0,959.0 1808.9,958.0 1831.8,964.0 1831.8,973" fill="#1c00d8"/>
<polyline points="365.6,973.0 388.5,973.0 411.4,973.0 434.3,973.0 457.2,973.0 480.2,973.0 503.1,973.0 526.0,973.0 548.9,973.0 571.8,973.0 594.7,973.0 617.6,972.0 640.5,959.0 663.4,852.0 686.3,744.0 709.2,777.0 732.2,845.0 755.1,914.0 778.0,917.0 800.9,903.0 823.8,909.0 846.7,896.0 869.6,962.0 892.5,961.0 915.4,958.5 938.4,961.0 961.3,965.0 984.2,968.0 1007.1,968.0 1030.0,961.0 1052.9,963.5 1075.8,958.0 1098.7,963.0 1121.6,966.0 1144.5,965.5 1167.5,959.5 1190.4,965.0 1213.3,970.5 1236.2,953.0 1259.1,936.0 1282.0,934.5 1304.9,933.3 1327.8,888.0 1350.7,844.0 1373.6,912.0 1396.6,946.0 1419.5,925.4 1442.4,914.0 1465.3,929.8 1488.2,934.0 1511.1,938.0 1534.0,941.0 1556.9,960.6 1579.8,957.0 1602.7,947.0 1625.7,938.0 1648.6,962.5 1671.5,958.0 1694.4,954.0 1717.3,933.4 1740.2,951.0 1763.1,959.5 1786.0,959.0 1808.9,958.0 1831.8,964.0" stroke="#fff" stroke-width="4.5" fill="none" stroke-linejoin="miter"/>
<line x1="363" y1="974.5" x2="1831" y2="974.5" stroke="#fff" stroke-width="4"/>
<text x="200.6" y="29.7" font-size="29.5" font-weight="bold" textLength="359.7" lengthAdjust="spacingAndGlyphs" fill="#f6f6f6" letter-spacing="1.2" stroke="#f6f6f6" stroke-width="0.8">Reggio nell'Emilia</text>
<text x="589.4" y="29.7" font-size="29.5" font-weight="bold" textLength="65.6" lengthAdjust="spacingAndGlyphs" fill="#f6f6f6" letter-spacing="1.2" stroke="#f6f6f6" stroke-width="0.8">(IT)</text>
<text x="686.9" y="29.7" font-size="29.5" font-weight="bold" textLength="160.3" lengthAdjust="spacingAndGlyphs" fill="#f6f6f6" letter-spacing="1.2" stroke="#f6f6f6" stroke-width="0.8">850 hPa</text>
<text x="873.1" y="28.5" font-size="24.0" font-weight="bold" textLength="925.6" lengthAdjust="spacingAndGlyphs" fill="#fff">grafico delle Temperature  (a 1.500 metri di quota) e delle Precipitazioni al suolo</text>
<rect x="26" y="107" width="100" height="12" fill="#fff"/>
<rect x="26" y="189" width="100" height="12" fill="#ff0000"/>
<text x="140.8" y="101.7" font-size="25.4" textLength="145.0" lengthAdjust="spacingAndGlyphs" fill="#fff">Temperature</text>
<text x="140.8" y="135.8" font-size="25.4" textLength="89.5" lengthAdjust="spacingAndGlyphs" fill="#fff">previste</text>
<text x="140.8" y="184.7" font-size="25.4" textLength="70.9" lengthAdjust="spacingAndGlyphs" fill="#fff">Media</text>
<text x="140.8" y="218.3" font-size="25.4" textLength="121.2" lengthAdjust="spacingAndGlyphs" fill="#fff">1991-2020</text>
<text x="46.9" y="475.1" font-size="23.0" font-weight="bold" textLength="140.5" lengthAdjust="spacingAndGlyphs" fill="#fff">TEMPERATURE</text>
<text x="51.0" y="944.4" font-size="24.0" font-weight="bold" textLength="160.0" lengthAdjust="spacingAndGlyphs" fill="#fff">PRECIPITAZIONI</text>
<path d="M256,397 H244 Q237,397 237,404 V573 Q237,580 244,580 H256" stroke="#fff" stroke-width="6.5" fill="none"/>
<path d="M256,802 H244 Q237,802 237,809 V964 Q237,971 244,971 H256" stroke="#fff" stroke-width="6.5" fill="none"/>
<rect x="24" y="635" width="99" height="47" fill="#10005e" stroke="#fff" stroke-width="4"/>
<rect x="24" y="717.3" width="99" height="46.5" fill="#7f0000" stroke="#fff" stroke-width="4"/>
<text x="155.3" y="665.6" font-size="25.4" textLength="136.1" lengthAdjust="spacingAndGlyphs" fill="#fff">Sotto media</text>
<text x="158.8" y="747.9" font-size="25.4" textLength="139.9" lengthAdjust="spacingAndGlyphs" fill="#fff">Sopra media</text>
<text x="315.2" y="59.2" font-size="19.8" textLength="26.5" lengthAdjust="spacingAndGlyphs" fill="#e6e6e6">25</text>
<text x="315.2" y="161.4" font-size="19.8" textLength="26.5" lengthAdjust="spacingAndGlyphs" fill="#e6e6e6">20</text>
<text x="315.2" y="263.6" font-size="19.8" textLength="26.5" lengthAdjust="spacingAndGlyphs" fill="#e6e6e6">15</text>
<text x="315.2" y="365.8" font-size="19.8" textLength="26.5" lengthAdjust="spacingAndGlyphs" fill="#e6e6e6">10</text>
<text x="328.7" y="468.1" font-size="19.8" textLength="13.0" lengthAdjust="spacingAndGlyphs" fill="#e6e6e6">5</text>
<text x="328.7" y="570.3" font-size="19.8" textLength="13.0" lengthAdjust="spacingAndGlyphs" fill="#e6e6e6">0</text>
<text x="318.3" y="672.5" font-size="19.8" textLength="23.4" lengthAdjust="spacingAndGlyphs" fill="#e6e6e6">-5</text>
<text x="313.9" y="774.8" font-size="19.8" textLength="27.8" lengthAdjust="spacingAndGlyphs" fill="#e6e6e6">10</text>
<rect x="311.5" y="767.2" width="2" height="1.6" fill="#aaa"/>
<text x="313.9" y="877.0" font-size="19.8" textLength="27.8" lengthAdjust="spacingAndGlyphs" fill="#e6e6e6">15</text>
<rect x="311.5" y="869.5" width="2" height="1.6" fill="#aaa"/>
<text x="306.1" y="979.2" font-size="19.8" textLength="35.6" lengthAdjust="spacingAndGlyphs" fill="#e6e6e6">-20</text>
<text x="1846.2" y="58.0" font-size="19.8" textLength="26.7" lengthAdjust="spacingAndGlyphs" fill="#e6e6e6">40</text>
<text x="1846.2" y="288.5" font-size="19.8" textLength="26.7" lengthAdjust="spacingAndGlyphs" fill="#e6e6e6">30</text>
<text x="1846.2" y="519.0" font-size="19.8" textLength="26.7" lengthAdjust="spacingAndGlyphs" fill="#e6e6e6">20</text>
<text x="1846.2" y="749.5" font-size="19.8" textLength="26.7" lengthAdjust="spacingAndGlyphs" fill="#e6e6e6">10</text>
<text x="1846.2" y="980.0" font-size="19.8" textLength="13.0" lengthAdjust="spacingAndGlyphs" fill="#e6e6e6">0</text>
<text x="302.1" y="1005.5" font-size="20.0" textLength="121.0" lengthAdjust="spacingAndGlyphs" fill="#e6e6e6" letter-spacing="0.8">23Mar 00z</text>
<text x="485.3" y="1005.5" font-size="20.0" textLength="121.0" lengthAdjust="spacingAndGlyphs" fill="#e6e6e6" letter-spacing="0.8">25Mar 00z</text>
<text x="668.5" y="1005.5" font-size="20.0" textLength="121.0" lengthAdjust="spacingAndGlyphs" fill="#e6e6e6" letter-spacing="0.8">27Mar 00z</text>
<text x="851.7" y="1005.5" font-size="20.0" textLength="121.0" lengthAdjust="spacingAndGlyphs" fill="#e6e6e6" letter-spacing="0.8">29Mar 00z</text>
<text x="1034.9" y="1005.5" font-size="20.0" textLength="121.0" lengthAdjust="spacingAndGlyphs" fill="#e6e6e6" letter-spacing="0.8">31Mar 00z</text>
<text x="1218.1" y="1005.5" font-size="20.0" textLength="121.0" lengthAdjust="spacingAndGlyphs" fill="#e6e6e6" letter-spacing="0.8">02Apr 00z</text>
<text x="1401.3" y="1005.5" font-size="20.0" textLength="121.0" lengthAdjust="spacingAndGlyphs" fill="#e6e6e6" letter-spacing="0.8">04Apr 00z</text>
<text x="1584.5" y="1005.5" font-size="20.0" textLength="121.0" lengthAdjust="spacingAndGlyphs" fill="#e6e6e6" letter-spacing="0.8">06Apr 00z</text>
<text x="1767.7" y="1005.5" font-size="20.0" textLength="121.0" lengthAdjust="spacingAndGlyphs" fill="#e6e6e6" letter-spacing="0.8">08Apr 00z</text>
<text x="1032.0" y="1037.0" font-size="20.0" textLength="127.0" lengthAdjust="spacingAndGlyphs" fill="#e6e6e6">Date (UTC)</text>
<text x="269.5" y="1050.6" font-size="30.0" textLength="516.0" lengthAdjust="spacingAndGlyphs" fill="#e0e0e0" letter-spacing="1">GFS Ensemble, 44.5N, 10.5E</text>
<text transform="translate(1905.4,956) rotate(-90)" font-size="25.6" font-weight="bold" fill="#fff" textLength="153.7" lengthAdjust="spacingAndGlyphs">Pioggia (mm)</text>
<text x="403.2" y="96.6" font-size="28.0" font-weight="bold" textLength="300.8" lengthAdjust="spacingAndGlyphs" fill="#fff">CAMPO PREVISIONALE</text>
<text x="403.2" y="124.7" font-size="21.5" textLength="224.2" lengthAdjust="spacingAndGlyphs" fill="#fff">AFFIDABILITA’ BUONA</text>
<text x="403.2" y="145.5" font-size="15.6" textLength="329.2" lengthAdjust="spacingAndGlyphs" fill="#fff">OGGETTO A MODIFICHE POCO DRASTICHE</text>
<text x="817.8" y="99.0" font-size="28.0" font-weight="bold" textLength="323.8" lengthAdjust="spacingAndGlyphs" fill="#fff">CAMPO DELLE TENDENZE</text>
<text x="817.8" y="126.6" font-size="20.5" textLength="261.2" lengthAdjust="spacingAndGlyphs" fill="#fff">AFFIDABILITA’ MEDIOCRE</text>
<text x="1085.0" y="126.6" font-size="15.0" textLength="375.6" lengthAdjust="spacingAndGlyphs" fill="#fff">– OGGETTO A MODIFICHE ANCHE GROSSOLANE</text>
<line x1="672" y1="172.6" x2="755" y2="172.6" stroke="#fff" stroke-width="2"/><polygon points="662,172.6 674,166.5 674,178.7" fill="#fff"/>
<line x1="807" y1="172.5" x2="890" y2="172.5" stroke="#fff" stroke-width="2"/><polygon points="900.5,172.5 888.5,166.4 888.5,178.6" fill="#fff"/>
<text x="406.7" y="608.7" font-size="23.0" font-weight="bold" textLength="324.6" lengthAdjust="spacingAndGlyphs" fill="#fff">Fase anticiclonica destinata</text>
<text x="398.2" y="636.8" font-size="23.0" font-weight="bold" textLength="341.0" lengthAdjust="spacingAndGlyphs" fill="#fff">a cedere. Un ciclone in arrivo</text>
<text x="447.3" y="665.7" font-size="23.0" font-weight="bold" textLength="242.4" lengthAdjust="spacingAndGlyphs" fill="#fff">dall’atlantico porterà</text>
<text x="422.6" y="694.2" font-size="23.0" font-weight="bold" textLength="293.9" lengthAdjust="spacingAndGlyphs" fill="#fff">variabilità e un calo delle</text>
<text x="403.8" y="723.3" font-size="23.0" font-weight="bold" textLength="329.5" lengthAdjust="spacingAndGlyphs" fill="#fff">temperature. Fase di 3 giorni</text>
<text x="459.2" y="751.4" font-size="23.0" font-weight="bold" textLength="218.7" lengthAdjust="spacingAndGlyphs" fill="#fff">di pioggia ad inizio</text>
<text x="509.7" y="780.0" font-size="23.0" font-weight="bold" textLength="117.7" lengthAdjust="spacingAndGlyphs" fill="#fff">settimana.</text>
<text x="841.9" y="665.6" font-size="23.0" font-weight="bold" textLength="922.4" lengthAdjust="spacingAndGlyphs" fill="#fff">Passato il ciclone la primavera prova a riaffermarsi. Nel lungo periodo potrebbe</text>
<text x="871.3" y="693.7" font-size="23.0" font-weight="bold" textLength="863.1" lengthAdjust="spacingAndGlyphs" fill="#fff">arrivare una bolla di aria calda che progressivamente porterà i termometri</text>
<text x="828.4" y="722.3" font-size="23.0" font-weight="bold" textLength="949.5" lengthAdjust="spacingAndGlyphs" fill="#fff">nuovamente sopra la media del periodo, ma senza eccessi. Secondo le tendenze</text>
<text x="843.7" y="751.1" font-size="23.0" font-weight="bold" textLength="918.5" lengthAdjust="spacingAndGlyphs" fill="#fff">dopo Pasqua «potrebbe» tornare un po’ di instabilità tipica della primavera e di</text>
<text x="1266.9" y="779.2" font-size="23.0" font-weight="bold" textLength="72.2" lengthAdjust="spacingAndGlyphs" fill="#fff">Aprile.</text>
<rect x="1552" y="66.3" width="255" height="50" fill="#fff"/>
<text x="1566.0" y="100.6" font-size="32.0" font-weight="bold" textLength="75.0" lengthAdjust="spacingAndGlyphs" fill="#333">Mete</text>
<text x="1676.0" y="100.6" font-size="32.0" font-weight="bold" textLength="83.0" lengthAdjust="spacingAndGlyphs" fill="#333">Reggi</text>
<g fill="#f7b52c"><polygon points="1654.3,81.5 1652.0,77.7 1649.7,81.5"/><polygon points="1660.8,86.1 1661.9,81.8 1657.6,82.9"/><polygon points="1662.2,94.0 1666.0,91.7 1662.2,89.4"/><polygon points="1657.6,100.5 1661.9,101.6 1660.8,97.3"/><polygon points="1649.7,101.9 1652.0,105.7 1654.3,101.9"/><polygon points="1643.2,97.3 1642.1,101.6 1646.4,100.5"/><polygon points="1641.8,89.4 1638.0,91.7 1641.8,94.0"/><polygon points="1646.4,82.9 1642.1,81.8 1643.2,86.1"/></g><circle cx="1652" cy="91.7" r="8.6" fill="url(#sung)"/>
<g fill="#f7b52c"><polygon points="1776.3,79.2 1774.0,76.1 1771.7,79.2"/><polygon points="1782.3,83.6 1782.8,79.8 1779.0,80.3"/><polygon points="1783.4,90.9 1786.5,88.6 1783.4,86.3"/><polygon points="1779.0,96.9 1782.8,97.4 1782.3,93.6"/><polygon points="1771.7,98.0 1774.0,101.1 1776.3,98.0"/><polygon points="1765.7,93.6 1765.2,97.4 1769.0,96.9"/><polygon points="1764.6,86.3 1761.5,88.6 1764.6,90.9"/><polygon points="1769.0,80.3 1765.2,79.8 1765.7,83.6"/></g><circle cx="1774" cy="88.6" r="7.8" fill="url(#sung)"/>
<path d="M1770,109 C1763.5,109 1763.5,100 1769.5,99.5 C1770,94 1777,91.5 1781,95.5 C1784.5,90.5 1793,92.5 1792.5,98.5 C1798.5,98.5 1798.5,109 1792,109 Z" fill="url(#cloudg)"/>
<rect x="1456.4" y="1025.3" width="341.4" height="45.6" fill="url(#wzg)" stroke="#fff" stroke-width="2"/>
<circle cx="1465" cy="1037.7" r="3" fill="#fff"/><circle cx="1465" cy="1037.7" r="9" fill="url(#flare)"/>
<text x="1476.6" y="1056.4" font-size="36.0" font-family="Liberation Serif" textLength="312.0" lengthAdjust="spacingAndGlyphs" fill="url(#silver)">Wetterzentrale</text>
<rect x="0" y="1077" width="1920" height="3" fill="#fff"/>
</svg>
</body></html>
